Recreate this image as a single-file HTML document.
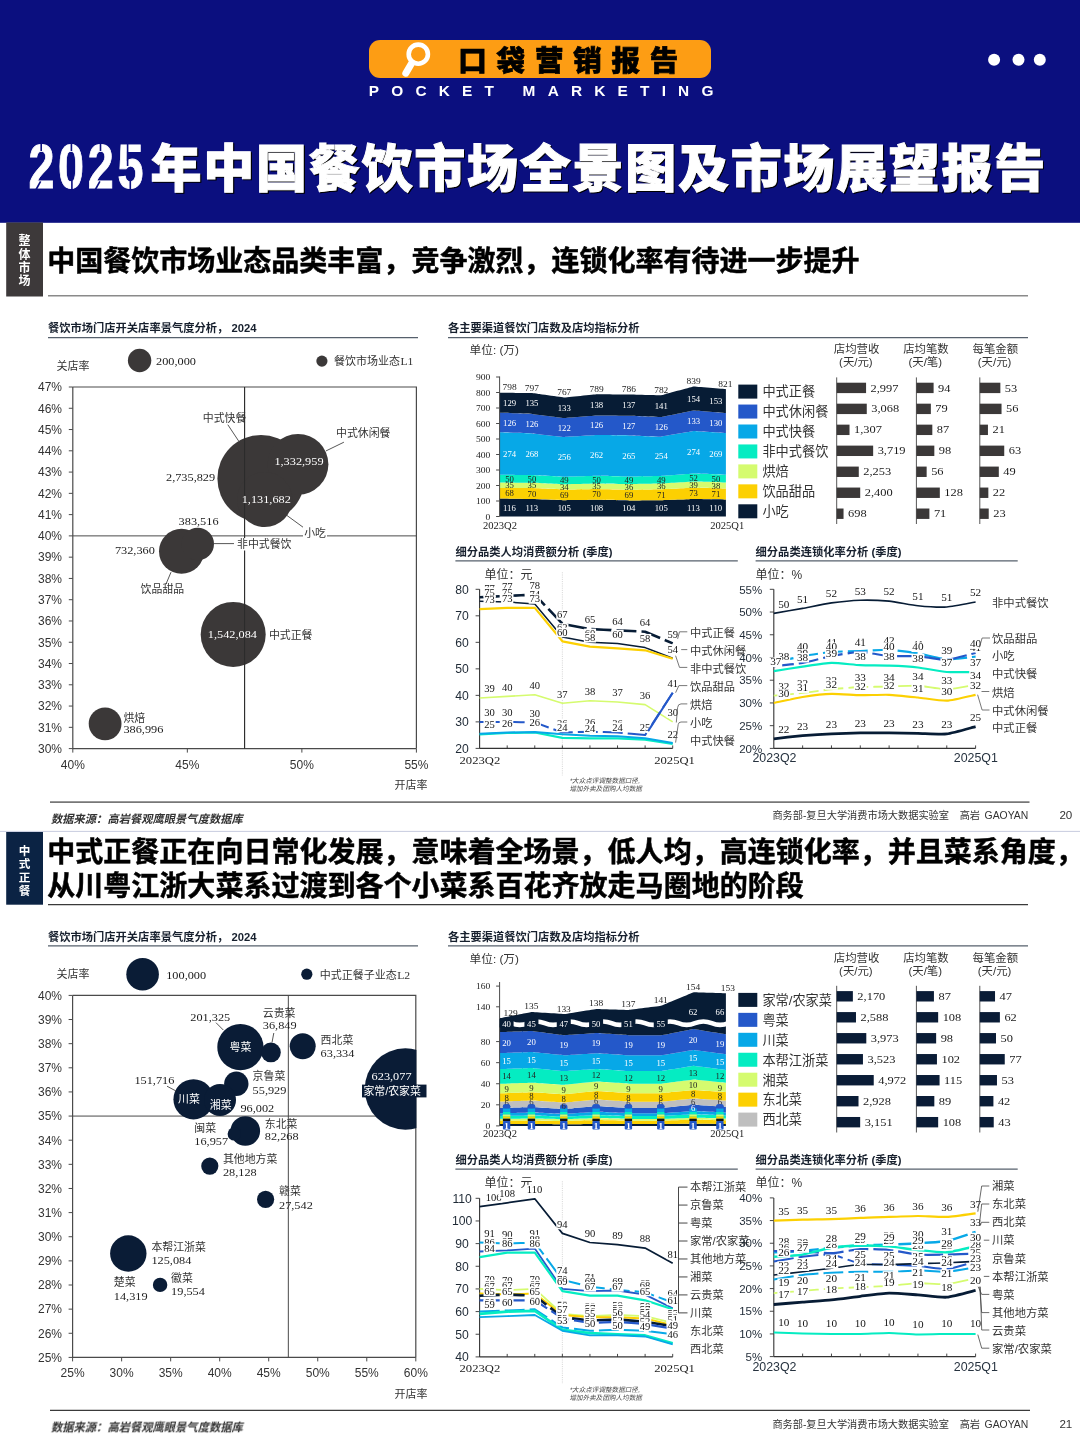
<!DOCTYPE html>
<html lang="zh-CN"><head><meta charset="utf-8"><title>2025年中国餐饮市场全景图及市场展望报告</title>
<style>
html,body{margin:0;padding:0;background:#fff}
body{width:1080px;height:1440px;overflow:hidden;font-family:"Liberation Sans",sans-serif}
svg{display:block;transform:translateZ(0);will-change:transform}
.s{font-family:"Liberation Sans",sans-serif}
.f{font-family:"Liberation Serif",serif}
.c{font-family:"Liberation Sans","Noto Sans CJK SC",sans-serif}
</style></head><body>
<svg width="1080" height="1440" viewBox="0 0 1080 1440">
<rect x="0.00" y="0.00" width="1080.00" height="222.80" fill="#0b0f7f"/>
<rect x="369.00" y="40.00" width="342.00" height="38.00" fill="#fd9d14" rx="11"/>
<circle cx="418.30" cy="54.20" r="9.60" fill="none" stroke="#fff" stroke-width="4.6"/>
<line x1="411.50" y1="63.50" x2="405.80" y2="73.20" stroke="#fff" stroke-width="7" stroke-linecap="round"/>
<text class="c" x="458.30" y="70.60" font-size="28.5" font-weight="900" letter-spacing="9.8" fill="#000" stroke="#000" stroke-width="0.7">口袋营销报告</text>
<text class="s" font-size="15.4" fill="#fff" font-weight="700" letter-spacing="12.2" x="368.80" y="95.80">POCKET MARKETING</text>
<circle cx="994.10" cy="59.80" r="6.00" fill="#fff"/>
<circle cx="1018.50" cy="59.80" r="6.00" fill="#fff"/>
<circle cx="1039.80" cy="59.80" r="6.00" fill="#fff"/>
<text class="c" x="151.70" y="188.10" font-size="51" font-weight="900" letter-spacing="1.73" fill="#000" stroke="#000" stroke-width="1">年中国餐饮市场全景图及市场展望报告</text>
<text class="s" font-size="63.5" fill="#fff" font-weight="700" letter-spacing="5.1" transform="translate(28.40 188.10) scale(0.735 1)" stroke="#fff" stroke-width="0.9">2025</text>
<text class="c" x="150.60" y="186.80" font-size="51" font-weight="900" letter-spacing="1.73" fill="#fff" stroke="#fff" stroke-width="1">年中国餐饮市场全景图及市场展望报告</text>
<line x1="41.20" y1="142.00" x2="41.20" y2="151.00" stroke="#0b0f7f" stroke-width="1.6"/>
<line x1="36.10" y1="189.50" x2="40.60" y2="181.30" stroke="#0b0f7f" stroke-width="1.6"/>
<line x1="100.50" y1="142.00" x2="100.50" y2="151.00" stroke="#0b0f7f" stroke-width="1.6"/>
<line x1="95.40" y1="189.50" x2="99.90" y2="181.30" stroke="#0b0f7f" stroke-width="1.6"/>
<line x1="71.40" y1="142.00" x2="71.40" y2="151.00" stroke="#0b0f7f" stroke-width="1.6"/>
<line x1="71.90" y1="180.50" x2="71.90" y2="190.00" stroke="#0b0f7f" stroke-width="1.6"/>
<line x1="127.60" y1="142.00" x2="127.60" y2="166.00" stroke="#0b0f7f" stroke-width="1.6"/>
<line x1="130.30" y1="180.50" x2="130.30" y2="190.00" stroke="#0b0f7f" stroke-width="1.6"/>
<rect x="6.20" y="222.50" width="36.80" height="74.00" fill="#3d393a"/>
<text class="c" x="18.60" y="245.40" font-size="12" font-weight="700" fill="#fff">整</text>
<text class="c" x="18.60" y="258.70" font-size="12" font-weight="700" fill="#fff">体</text>
<text class="c" x="18.60" y="272.00" font-size="12" font-weight="700" fill="#fff">市</text>
<text class="c" x="18.60" y="285.30" font-size="12" font-weight="700" fill="#fff">场</text>
<text class="c" x="47.20" y="271.40" font-size="28.03" font-weight="700" fill="#000" stroke="#000" stroke-width="0.5">中国餐饮市场业态品类丰富，竞争激烈，连锁化率有待进一步提升</text>
<line x1="48.00" y1="295.80" x2="1028.00" y2="295.80" stroke="#8a8a8a" stroke-width="1.6"/>
<text class="c" x="48.00" y="332.40" font-size="11.27" font-weight="700" fill="#17202e">餐饮市场门店开关店率景气度分析， 2024</text>
<line x1="48.00" y1="337.60" x2="418.00" y2="337.60" stroke="#56606c" stroke-width="1.3"/>
<path d="M72.8 387.0H416.4V748.6" fill="none" stroke="#4a4a4a" stroke-width="1.2"/>
<path d="M72.8 387.0V748.6H416.4" fill="none" stroke="#4a4a4a" stroke-width="1.2"/>
<line x1="68.80" y1="748.60" x2="72.80" y2="748.60" stroke="#4a4a4a" stroke-width="1"/>
<text class="s" font-size="12" fill="#333" text-anchor="end" x="62.00" y="752.90">30%</text>
<line x1="68.80" y1="727.33" x2="72.80" y2="727.33" stroke="#4a4a4a" stroke-width="1"/>
<text class="s" font-size="12" fill="#333" text-anchor="end" x="62.00" y="731.63">31%</text>
<line x1="68.80" y1="706.06" x2="72.80" y2="706.06" stroke="#4a4a4a" stroke-width="1"/>
<text class="s" font-size="12" fill="#333" text-anchor="end" x="62.00" y="710.36">32%</text>
<line x1="68.80" y1="684.79" x2="72.80" y2="684.79" stroke="#4a4a4a" stroke-width="1"/>
<text class="s" font-size="12" fill="#333" text-anchor="end" x="62.00" y="689.09">33%</text>
<line x1="68.80" y1="663.52" x2="72.80" y2="663.52" stroke="#4a4a4a" stroke-width="1"/>
<text class="s" font-size="12" fill="#333" text-anchor="end" x="62.00" y="667.82">34%</text>
<line x1="68.80" y1="642.25" x2="72.80" y2="642.25" stroke="#4a4a4a" stroke-width="1"/>
<text class="s" font-size="12" fill="#333" text-anchor="end" x="62.00" y="646.55">35%</text>
<line x1="68.80" y1="620.98" x2="72.80" y2="620.98" stroke="#4a4a4a" stroke-width="1"/>
<text class="s" font-size="12" fill="#333" text-anchor="end" x="62.00" y="625.28">36%</text>
<line x1="68.80" y1="599.71" x2="72.80" y2="599.71" stroke="#4a4a4a" stroke-width="1"/>
<text class="s" font-size="12" fill="#333" text-anchor="end" x="62.00" y="604.01">37%</text>
<line x1="68.80" y1="578.44" x2="72.80" y2="578.44" stroke="#4a4a4a" stroke-width="1"/>
<text class="s" font-size="12" fill="#333" text-anchor="end" x="62.00" y="582.74">38%</text>
<line x1="68.80" y1="557.16" x2="72.80" y2="557.16" stroke="#4a4a4a" stroke-width="1"/>
<text class="s" font-size="12" fill="#333" text-anchor="end" x="62.00" y="561.46">39%</text>
<line x1="68.80" y1="535.89" x2="72.80" y2="535.89" stroke="#4a4a4a" stroke-width="1"/>
<text class="s" font-size="12" fill="#333" text-anchor="end" x="62.00" y="540.19">40%</text>
<line x1="68.80" y1="514.62" x2="72.80" y2="514.62" stroke="#4a4a4a" stroke-width="1"/>
<text class="s" font-size="12" fill="#333" text-anchor="end" x="62.00" y="518.92">41%</text>
<line x1="68.80" y1="493.35" x2="72.80" y2="493.35" stroke="#4a4a4a" stroke-width="1"/>
<text class="s" font-size="12" fill="#333" text-anchor="end" x="62.00" y="497.65">42%</text>
<line x1="68.80" y1="472.08" x2="72.80" y2="472.08" stroke="#4a4a4a" stroke-width="1"/>
<text class="s" font-size="12" fill="#333" text-anchor="end" x="62.00" y="476.38">43%</text>
<line x1="68.80" y1="450.81" x2="72.80" y2="450.81" stroke="#4a4a4a" stroke-width="1"/>
<text class="s" font-size="12" fill="#333" text-anchor="end" x="62.00" y="455.11">44%</text>
<line x1="68.80" y1="429.54" x2="72.80" y2="429.54" stroke="#4a4a4a" stroke-width="1"/>
<text class="s" font-size="12" fill="#333" text-anchor="end" x="62.00" y="433.84">45%</text>
<line x1="68.80" y1="408.27" x2="72.80" y2="408.27" stroke="#4a4a4a" stroke-width="1"/>
<text class="s" font-size="12" fill="#333" text-anchor="end" x="62.00" y="412.57">46%</text>
<line x1="68.80" y1="387.00" x2="72.80" y2="387.00" stroke="#4a4a4a" stroke-width="1"/>
<text class="s" font-size="12" fill="#333" text-anchor="end" x="62.00" y="391.30">47%</text>
<line x1="72.80" y1="748.60" x2="72.80" y2="752.60" stroke="#4a4a4a" stroke-width="1"/>
<text class="s" font-size="12" fill="#333" text-anchor="middle" x="72.80" y="768.80">40%</text>
<line x1="187.33" y1="748.60" x2="187.33" y2="752.60" stroke="#4a4a4a" stroke-width="1"/>
<text class="s" font-size="12" fill="#333" text-anchor="middle" x="187.33" y="768.80">45%</text>
<line x1="301.87" y1="748.60" x2="301.87" y2="752.60" stroke="#4a4a4a" stroke-width="1"/>
<text class="s" font-size="12" fill="#333" text-anchor="middle" x="301.87" y="768.80">50%</text>
<line x1="416.40" y1="748.60" x2="416.40" y2="752.60" stroke="#4a4a4a" stroke-width="1"/>
<text class="s" font-size="12" fill="#333" text-anchor="middle" x="416.40" y="768.80">55%</text>
<line x1="72.80" y1="535.89" x2="416.40" y2="535.89" stroke="#4a4a4a" stroke-width="1"/>
<line x1="244.60" y1="387.00" x2="244.60" y2="748.60" stroke="#4a4a4a" stroke-width="1"/>
<text class="c" x="56.50" y="370.00" font-size="11" fill="#333">关店率</text>
<text class="c" x="394.50" y="789.40" font-size="11" fill="#333">开店率</text>
<circle cx="139.60" cy="360.50" r="11.70" fill="#3b3838"/>
<text class="f" font-size="10.6" fill="#1a1a1a" transform="translate(156.00 365.40) scale(1.16 1)">200,000</text>
<circle cx="321.90" cy="361.10" r="5.60" fill="#3b3838"/>
<text class="c" x="334.00" y="365.40" font-size="11" fill="#333">餐饮市场业态</text>
<text class="f" font-size="10.6" fill="#333" transform="translate(400.40 365.40) scale(1.1 1)">L1</text>
<circle cx="261.00" cy="478.50" r="43.60" fill="#3b3838"/>
<circle cx="298.00" cy="464.30" r="30.40" fill="#3b3838"/>
<circle cx="264.70" cy="499.50" r="27.60" fill="#3b3838"/>
<circle cx="181.50" cy="551.30" r="22.50" fill="#3b3838"/>
<circle cx="197.70" cy="544.00" r="16.30" fill="#3b3838"/>
<circle cx="233.20" cy="634.40" r="32.50" fill="#3b3838"/>
<circle cx="105.10" cy="723.80" r="16.40" fill="#3b3838"/>
<line x1="244.60" y1="387.00" x2="244.60" y2="748.60" stroke="#2a2a2a" stroke-width="1"/>
<line x1="227.80" y1="424.70" x2="238.90" y2="441.40" stroke="#444" stroke-width="0.9"/>
<line x1="343.90" y1="442.20" x2="325.80" y2="451.00" stroke="#444" stroke-width="0.9"/>
<line x1="287.00" y1="515.50" x2="305.50" y2="529.00" stroke="#444" stroke-width="0.9"/>
<line x1="213.30" y1="543.60" x2="234.00" y2="543.60" stroke="#444" stroke-width="0.9"/>
<line x1="171.00" y1="572.20" x2="166.20" y2="583.60" stroke="#444" stroke-width="0.9"/>
<rect x="303.00" y="527.00" width="24.00" height="13.00" fill="#fff"/>
<rect x="236.00" y="538.00" width="57.00" height="12.50" fill="#fff"/>
<text class="c" x="202.80" y="422.00" font-size="10.9" fill="#333">中式快餐</text>
<text class="c" x="336.00" y="437.00" font-size="10.9" fill="#333">中式休闲餐</text>
<text class="c" x="304.20" y="537.20" font-size="10.9" fill="#333">小吃</text>
<text class="c" x="237.00" y="548.00" font-size="10.9" fill="#333">非中式餐饮</text>
<text class="c" x="140.60" y="593.40" font-size="10.9" fill="#333">饮品甜品</text>
<text class="c" x="268.90" y="638.60" font-size="10.9" fill="#333">中式正餐</text>
<text class="c" x="123.40" y="721.70" font-size="10.9" fill="#333">烘焙</text>
<text class="f" font-size="10.6" fill="#fff" transform="translate(274.40 465.00) scale(1.16 1)">1,332,959</text>
<text class="f" font-size="10.6" fill="#1a1a1a" transform="translate(166.00 481.00) scale(1.16 1)">2,735,829</text>
<text class="f" font-size="10.6" fill="#fff" transform="translate(241.70 502.50) scale(1.16 1)">1,131,682</text>
<text class="f" font-size="10.6" fill="#1a1a1a" transform="translate(178.60 524.70) scale(1.16 1)">383,516</text>
<text class="f" font-size="10.6" fill="#1a1a1a" transform="translate(114.90 553.90) scale(1.16 1)">732,360</text>
<text class="f" font-size="10.6" fill="#fff" transform="translate(207.80 638.20) scale(1.16 1)">1,542,084</text>
<text class="f" font-size="10.6" fill="#1a1a1a" transform="translate(123.40 733.20) scale(1.16 1)">386,996</text>
<line x1="50.00" y1="802.20" x2="1029.50" y2="802.20" stroke="#777" stroke-width="1.8"/>
<text class="c" transform="translate(51.00 822.80) skewX(-12)" font-size="11.3" font-weight="700" fill="#333">数据来源：高岩餐观鹰眼景气度数据库</text>
<text class="c" x="448.00" y="332.40" font-size="11.27" font-weight="700" fill="#17202e">各主要渠道餐饮门店数及店均指标分析</text>
<line x1="448.00" y1="337.60" x2="1028.00" y2="337.60" stroke="#56606c" stroke-width="1.3"/>
<text class="c" x="469.60" y="354.40" font-size="11.7" fill="#333">单位: (万)</text>
<path d="M499.6 498.5C499.6 498.5 531.9 499.0 531.9 499.0C531.9 499.0 564.3 500.2 564.3 500.2C564.3 500.2 596.6 499.8 596.6 499.8C596.6 499.8 628.9 500.4 628.9 500.4C628.9 500.4 661.2 500.2 661.2 500.2C661.2 500.2 693.6 499.0 693.6 499.0C693.6 499.0 725.9 499.4 725.9 499.4L725.9 516.5C725.9 516.5 693.6 516.5 693.6 516.5C693.6 516.5 661.2 516.5 661.2 516.5C661.2 516.5 628.9 516.5 628.9 516.5C628.9 516.5 596.6 516.5 596.6 516.5C596.6 516.5 564.3 516.5 564.3 516.5C564.3 516.5 531.9 516.5 531.9 516.5C531.9 516.5 499.6 516.5 499.6 516.5Z" fill="#071c35"/>
<path d="M499.6 488.0C499.6 488.0 531.9 488.1 531.9 488.1C531.9 488.1 564.3 489.5 564.3 489.5C564.3 489.5 596.6 488.9 596.6 488.9C596.6 488.9 628.9 489.7 628.9 489.7C628.9 489.7 661.2 489.2 661.2 489.2C661.2 489.2 693.6 487.7 693.6 487.7C693.6 487.7 725.9 488.4 725.9 488.4L725.9 499.4C725.9 499.4 693.6 499.0 693.6 499.0C693.6 499.0 661.2 500.2 661.2 500.2C661.2 500.2 628.9 500.4 628.9 500.4C628.9 500.4 596.6 499.8 596.6 499.8C596.6 499.8 564.3 500.2 564.3 500.2C564.3 500.2 531.9 499.0 531.9 499.0C531.9 499.0 499.6 498.5 499.6 498.5Z" fill="#fcd002"/>
<path d="M499.6 482.6C499.6 482.6 531.9 482.7 531.9 482.7C531.9 482.7 564.3 484.3 564.3 484.3C564.3 484.3 596.6 483.5 596.6 483.5C596.6 483.5 628.9 484.1 628.9 484.1C628.9 484.1 661.2 483.6 661.2 483.6C661.2 483.6 693.6 481.6 693.6 481.6C693.6 481.6 725.9 482.6 725.9 482.6L725.9 488.4C725.9 488.4 693.6 487.7 693.6 487.7C693.6 487.7 661.2 489.2 661.2 489.2C661.2 489.2 628.9 489.7 628.9 489.7C628.9 489.7 596.6 488.9 596.6 488.9C596.6 488.9 564.3 489.5 564.3 489.5C564.3 489.5 531.9 488.1 531.9 488.1C531.9 488.1 499.6 488.0 499.6 488.0Z" fill="#d5fb6f"/>
<path d="M499.6 474.8C499.6 474.8 531.9 475.0 531.9 475.0C531.9 475.0 564.3 476.7 564.3 476.7C564.3 476.7 596.6 475.7 596.6 475.7C596.6 475.7 628.9 476.5 628.9 476.5C628.9 476.5 661.2 476.0 661.2 476.0C661.2 476.0 693.6 473.6 693.6 473.6C693.6 473.6 725.9 474.8 725.9 474.8L725.9 482.6C725.9 482.6 693.6 481.6 693.6 481.6C693.6 481.6 661.2 483.6 661.2 483.6C661.2 483.6 628.9 484.1 628.9 484.1C628.9 484.1 596.6 483.5 596.6 483.5C596.6 483.5 564.3 484.3 564.3 484.3C564.3 484.3 531.9 482.7 531.9 482.7C531.9 482.7 499.6 482.6 499.6 482.6Z" fill="#05ecc2"/>
<path d="M499.6 432.3C499.6 432.3 531.9 433.4 531.9 433.4C531.9 433.4 564.3 437.0 564.3 437.0C564.3 437.0 596.6 435.1 596.6 435.1C596.6 435.1 628.9 435.4 628.9 435.4C628.9 435.4 661.2 436.7 661.2 436.7C661.2 436.7 693.6 431.1 693.6 431.1C693.6 431.1 725.9 433.1 725.9 433.1L725.9 474.8C725.9 474.8 693.6 473.6 693.6 473.6C693.6 473.6 661.2 476.0 661.2 476.0C661.2 476.0 628.9 476.5 628.9 476.5C628.9 476.5 596.6 475.7 596.6 475.7C596.6 475.7 564.3 476.7 564.3 476.7C564.3 476.7 531.9 475.0 531.9 475.0C531.9 475.0 499.6 474.8 499.6 474.8Z" fill="#07a8e7"/>
<path d="M499.6 412.8C499.6 412.8 531.9 413.9 531.9 413.9C531.9 413.9 564.3 418.1 564.3 418.1C564.3 418.1 596.6 415.6 596.6 415.6C596.6 415.6 628.9 415.8 628.9 415.8C628.9 415.8 661.2 417.1 661.2 417.1C661.2 417.1 693.6 410.5 693.6 410.5C693.6 410.5 725.9 413.0 725.9 413.0L725.9 433.1C725.9 433.1 693.6 431.1 693.6 431.1C693.6 431.1 661.2 436.7 661.2 436.7C661.2 436.7 628.9 435.4 628.9 435.4C628.9 435.4 596.6 435.1 596.6 435.1C596.6 435.1 564.3 437.0 564.3 437.0C564.3 437.0 531.9 433.4 531.9 433.4C531.9 433.4 499.6 432.3 499.6 432.3Z" fill="#2458c9"/>
<path d="M499.6 392.8C499.6 392.8 531.9 393.0 531.9 393.0C531.9 393.0 564.3 397.5 564.3 397.5C564.3 397.5 596.6 394.2 596.6 394.2C596.6 394.2 628.9 394.5 628.9 394.5C628.9 394.5 661.2 395.3 661.2 395.3C661.2 395.3 693.6 386.6 693.6 386.6C693.6 386.6 725.9 389.2 725.9 389.2L725.9 413.0C725.9 413.0 693.6 410.5 693.6 410.5C693.6 410.5 661.2 417.1 661.2 417.1C661.2 417.1 628.9 415.8 628.9 415.8C628.9 415.8 596.6 415.6 596.6 415.6C596.6 415.6 564.3 418.1 564.3 418.1C564.3 418.1 531.9 413.9 531.9 413.9C531.9 413.9 499.6 412.8 499.6 412.8Z" fill="#071c35"/>
<line x1="499.60" y1="376.50" x2="499.60" y2="516.50" stroke="#4a4a4a" stroke-width="1"/>
<line x1="496.10" y1="516.50" x2="499.60" y2="516.50" stroke="#4a4a4a" stroke-width="1"/>
<text class="f" font-size="9" fill="#222" transform="translate(485.43 519.50) scale(1.06 1)">0</text>
<line x1="496.10" y1="501.00" x2="499.60" y2="501.00" stroke="#4a4a4a" stroke-width="1"/>
<text class="f" font-size="9" fill="#222" transform="translate(475.89 504.00) scale(1.06 1)">100</text>
<line x1="496.10" y1="485.50" x2="499.60" y2="485.50" stroke="#4a4a4a" stroke-width="1"/>
<text class="f" font-size="9" fill="#222" transform="translate(475.89 488.50) scale(1.06 1)">200</text>
<line x1="496.10" y1="470.00" x2="499.60" y2="470.00" stroke="#4a4a4a" stroke-width="1"/>
<text class="f" font-size="9" fill="#222" transform="translate(475.89 473.00) scale(1.06 1)">300</text>
<line x1="496.10" y1="454.50" x2="499.60" y2="454.50" stroke="#4a4a4a" stroke-width="1"/>
<text class="f" font-size="9" fill="#222" transform="translate(475.89 457.50) scale(1.06 1)">400</text>
<line x1="496.10" y1="439.00" x2="499.60" y2="439.00" stroke="#4a4a4a" stroke-width="1"/>
<text class="f" font-size="9" fill="#222" transform="translate(475.89 442.00) scale(1.06 1)">500</text>
<line x1="496.10" y1="423.50" x2="499.60" y2="423.50" stroke="#4a4a4a" stroke-width="1"/>
<text class="f" font-size="9" fill="#222" transform="translate(475.89 426.50) scale(1.06 1)">600</text>
<line x1="496.10" y1="408.00" x2="499.60" y2="408.00" stroke="#4a4a4a" stroke-width="1"/>
<text class="f" font-size="9" fill="#222" transform="translate(475.89 411.00) scale(1.06 1)">700</text>
<line x1="496.10" y1="392.50" x2="499.60" y2="392.50" stroke="#4a4a4a" stroke-width="1"/>
<text class="f" font-size="9" fill="#222" transform="translate(475.89 395.50) scale(1.06 1)">800</text>
<line x1="496.10" y1="377.00" x2="499.60" y2="377.00" stroke="#4a4a4a" stroke-width="1"/>
<text class="f" font-size="9" fill="#222" transform="translate(475.89 380.00) scale(1.06 1)">900</text>
<text class="f" font-size="9" fill="#fff" transform="translate(503.05 510.51) scale(0.97 1)">116</text>
<text class="f" font-size="9" fill="#fff" transform="translate(525.38 510.74) scale(0.97 1)">113</text>
<text class="f" font-size="9" fill="#fff" transform="translate(557.71 511.36) scale(0.97 1)">105</text>
<text class="f" font-size="9" fill="#fff" transform="translate(590.04 511.13) scale(0.97 1)">108</text>
<text class="f" font-size="9" fill="#fff" transform="translate(622.37 511.44) scale(0.97 1)">104</text>
<text class="f" font-size="9" fill="#fff" transform="translate(654.70 511.36) scale(0.97 1)">105</text>
<text class="f" font-size="9" fill="#fff" transform="translate(687.02 510.74) scale(0.97 1)">113</text>
<text class="f" font-size="9" fill="#fff" transform="translate(709.35 510.98) scale(0.97 1)">110</text>
<text class="f" font-size="9" fill="#222" transform="translate(505.24 496.25) scale(0.97 1)">68</text>
<text class="f" font-size="9" fill="#222" transform="translate(527.56 496.56) scale(0.97 1)">70</text>
<text class="f" font-size="9" fill="#222" transform="translate(559.89 497.88) scale(0.97 1)">69</text>
<text class="f" font-size="9" fill="#222" transform="translate(592.22 497.33) scale(0.97 1)">70</text>
<text class="f" font-size="9" fill="#222" transform="translate(624.55 498.03) scale(0.97 1)">69</text>
<text class="f" font-size="9" fill="#222" transform="translate(656.88 497.72) scale(0.97 1)">71</text>
<text class="f" font-size="9" fill="#222" transform="translate(689.21 496.33) scale(0.97 1)">73</text>
<text class="f" font-size="9" fill="#222" transform="translate(711.53 496.95) scale(0.97 1)">71</text>
<text class="f" font-size="9" fill="#222" transform="translate(505.24 488.27) scale(0.97 1)">35</text>
<text class="f" font-size="9" fill="#222" transform="translate(527.56 488.42) scale(0.97 1)">35</text>
<text class="f" font-size="9" fill="#222" transform="translate(559.89 489.89) scale(0.97 1)">34</text>
<text class="f" font-size="9" fill="#222" transform="translate(592.22 489.20) scale(0.97 1)">35</text>
<text class="f" font-size="9" fill="#222" transform="translate(624.55 489.89) scale(0.97 1)">36</text>
<text class="f" font-size="9" fill="#222" transform="translate(656.88 489.43) scale(0.97 1)">36</text>
<text class="f" font-size="9" fill="#222" transform="translate(689.21 487.65) scale(0.97 1)">39</text>
<text class="f" font-size="9" fill="#222" transform="translate(711.53 488.50) scale(0.97 1)">38</text>
<text class="f" font-size="9" fill="#222" transform="translate(505.24 481.68) scale(0.97 1)">50</text>
<text class="f" font-size="9" fill="#222" transform="translate(527.56 481.83) scale(0.97 1)">50</text>
<text class="f" font-size="9" fill="#222" transform="translate(559.89 483.46) scale(0.97 1)">49</text>
<text class="f" font-size="9" fill="#222" transform="translate(592.22 482.61) scale(0.97 1)">50</text>
<text class="f" font-size="9" fill="#222" transform="translate(624.55 483.31) scale(0.97 1)">49</text>
<text class="f" font-size="9" fill="#222" transform="translate(656.88 482.84) scale(0.97 1)">49</text>
<text class="f" font-size="9" fill="#222" transform="translate(689.21 480.60) scale(0.97 1)">52</text>
<text class="f" font-size="9" fill="#222" transform="translate(711.53 481.68) scale(0.97 1)">50</text>
<text class="f" font-size="9" fill="#fff" transform="translate(503.05 456.57) scale(0.97 1)">274</text>
<text class="f" font-size="9" fill="#fff" transform="translate(525.38 457.19) scale(0.97 1)">268</text>
<text class="f" font-size="9" fill="#fff" transform="translate(557.71 459.82) scale(0.97 1)">256</text>
<text class="f" font-size="9" fill="#fff" transform="translate(590.04 458.43) scale(0.97 1)">262</text>
<text class="f" font-size="9" fill="#fff" transform="translate(622.37 458.97) scale(0.97 1)">265</text>
<text class="f" font-size="9" fill="#fff" transform="translate(654.70 459.36) scale(0.97 1)">254</text>
<text class="f" font-size="9" fill="#fff" transform="translate(687.02 455.33) scale(0.97 1)">274</text>
<text class="f" font-size="9" fill="#fff" transform="translate(709.35 456.96) scale(0.97 1)">269</text>
<text class="f" font-size="9" fill="#fff" transform="translate(503.05 425.57) scale(0.97 1)">126</text>
<text class="f" font-size="9" fill="#fff" transform="translate(525.38 426.65) scale(0.97 1)">126</text>
<text class="f" font-size="9" fill="#fff" transform="translate(557.71 430.53) scale(0.97 1)">122</text>
<text class="f" font-size="9" fill="#fff" transform="translate(590.04 428.36) scale(0.97 1)">126</text>
<text class="f" font-size="9" fill="#fff" transform="translate(622.37 428.59) scale(0.97 1)">127</text>
<text class="f" font-size="9" fill="#fff" transform="translate(654.70 429.91) scale(0.97 1)">126</text>
<text class="f" font-size="9" fill="#fff" transform="translate(687.02 423.79) scale(0.97 1)">133</text>
<text class="f" font-size="9" fill="#fff" transform="translate(709.35 426.03) scale(0.97 1)">130</text>
<text class="f" font-size="9" fill="#fff" transform="translate(503.05 405.81) scale(0.97 1)">129</text>
<text class="f" font-size="9" fill="#fff" transform="translate(525.38 406.43) scale(0.97 1)">135</text>
<text class="f" font-size="9" fill="#fff" transform="translate(557.71 410.77) scale(0.97 1)">133</text>
<text class="f" font-size="9" fill="#fff" transform="translate(590.04 407.90) scale(0.97 1)">138</text>
<text class="f" font-size="9" fill="#fff" transform="translate(622.37 408.13) scale(0.97 1)">137</text>
<text class="f" font-size="9" fill="#fff" transform="translate(654.70 409.22) scale(0.97 1)">141</text>
<text class="f" font-size="9" fill="#fff" transform="translate(687.02 401.55) scale(0.97 1)">154</text>
<text class="f" font-size="9" fill="#fff" transform="translate(709.35 404.10) scale(0.97 1)">153</text>
<text class="f" font-size="9" fill="#222" transform="translate(502.51 390.41) scale(1.05 1)">798</text>
<text class="f" font-size="9" fill="#222" transform="translate(524.84 390.57) scale(1.05 1)">797</text>
<text class="f" font-size="9" fill="#222" transform="translate(557.17 395.06) scale(1.05 1)">767</text>
<text class="f" font-size="9" fill="#222" transform="translate(589.50 391.81) scale(1.05 1)">789</text>
<text class="f" font-size="9" fill="#222" transform="translate(621.83 392.12) scale(1.05 1)">786</text>
<text class="f" font-size="9" fill="#222" transform="translate(654.16 392.89) scale(1.05 1)">782</text>
<text class="f" font-size="9" fill="#222" transform="translate(686.48 384.21) scale(1.05 1)">839</text>
<text class="f" font-size="9" fill="#222" transform="translate(718.31 386.85) scale(1.05 1)">821</text>
<text class="f" font-size="9.6" fill="#222" transform="translate(483.00 528.70) scale(1.1 1)">2023Q2</text>
<text class="f" font-size="9.6" fill="#222" transform="translate(710.20 528.70) scale(1.1 1)">2025Q1</text>
<rect x="738.30" y="384.60" width="19.00" height="14.00" fill="#071c35"/>
<text class="c" x="762.40" y="396.40" font-size="13.2" fill="#333">中式正餐</text>
<rect x="738.30" y="404.55" width="19.00" height="14.00" fill="#2458c9"/>
<text class="c" x="762.40" y="416.35" font-size="13.2" fill="#333">中式休闲餐</text>
<rect x="738.30" y="424.50" width="19.00" height="14.00" fill="#07a8e7"/>
<text class="c" x="762.40" y="436.30" font-size="13.2" fill="#333">中式快餐</text>
<rect x="738.30" y="444.45" width="19.00" height="14.00" fill="#05ecc2"/>
<text class="c" x="762.40" y="456.25" font-size="13.2" fill="#333">非中式餐饮</text>
<rect x="738.30" y="464.40" width="19.00" height="14.00" fill="#d5fb6f"/>
<text class="c" x="762.40" y="476.20" font-size="13.2" fill="#333">烘焙</text>
<rect x="738.30" y="484.35" width="19.00" height="14.00" fill="#fcd002"/>
<text class="c" x="762.40" y="496.15" font-size="13.2" fill="#333">饮品甜品</text>
<rect x="738.30" y="504.30" width="19.00" height="14.00" fill="#071c35"/>
<text class="c" x="762.40" y="516.10" font-size="13.2" fill="#333">小吃</text>
<text class="c" x="833.80" y="353.30" font-size="11.4" fill="#333">店均营收</text>
<text class="c" x="839.11" y="366.30" font-size="11.4" fill="#333">(天/元)</text>
<line x1="836.70" y1="377.40" x2="836.70" y2="524.00" stroke="#555" stroke-width="1"/>
<rect x="836.70" y="382.70" width="29.37" height="10.40" fill="#3b3838"/>
<text class="f" font-size="10.8" fill="#1a1a1a" transform="translate(870.57 391.50) scale(1.15 1)">2,997</text>
<rect x="836.70" y="403.67" width="30.07" height="10.40" fill="#3b3838"/>
<text class="f" font-size="10.8" fill="#1a1a1a" transform="translate(871.27 412.47) scale(1.15 1)">3,068</text>
<rect x="836.70" y="424.64" width="12.81" height="10.40" fill="#3b3838"/>
<text class="f" font-size="10.8" fill="#1a1a1a" transform="translate(854.01 433.44) scale(1.15 1)">1,307</text>
<rect x="836.70" y="445.61" width="36.45" height="10.40" fill="#3b3838"/>
<text class="f" font-size="10.8" fill="#1a1a1a" transform="translate(877.65 454.41) scale(1.15 1)">3,719</text>
<rect x="836.70" y="466.58" width="22.08" height="10.40" fill="#3b3838"/>
<text class="f" font-size="10.8" fill="#1a1a1a" transform="translate(863.28 475.38) scale(1.15 1)">2,253</text>
<rect x="836.70" y="487.55" width="23.52" height="10.40" fill="#3b3838"/>
<text class="f" font-size="10.8" fill="#1a1a1a" transform="translate(864.72 496.35) scale(1.15 1)">2,400</text>
<rect x="836.70" y="508.52" width="6.84" height="10.40" fill="#3b3838"/>
<text class="f" font-size="10.8" fill="#1a1a1a" transform="translate(848.04 517.32) scale(1.15 1)">698</text>
<text class="c" x="903.20" y="353.30" font-size="11.4" fill="#333">店均笔数</text>
<text class="c" x="908.51" y="366.30" font-size="11.4" fill="#333">(天/笔)</text>
<line x1="916.40" y1="377.40" x2="916.40" y2="524.00" stroke="#555" stroke-width="1"/>
<rect x="916.40" y="382.70" width="17.20" height="10.40" fill="#3b3838"/>
<text class="f" font-size="10.8" fill="#1a1a1a" transform="translate(938.10 391.50) scale(1.15 1)">94</text>
<rect x="916.40" y="403.67" width="14.46" height="10.40" fill="#3b3838"/>
<text class="f" font-size="10.8" fill="#1a1a1a" transform="translate(935.36 412.47) scale(1.15 1)">79</text>
<rect x="916.40" y="424.64" width="15.92" height="10.40" fill="#3b3838"/>
<text class="f" font-size="10.8" fill="#1a1a1a" transform="translate(936.82 433.44) scale(1.15 1)">87</text>
<rect x="916.40" y="445.61" width="17.93" height="10.40" fill="#3b3838"/>
<text class="f" font-size="10.8" fill="#1a1a1a" transform="translate(938.83 454.41) scale(1.15 1)">98</text>
<rect x="916.40" y="466.58" width="10.25" height="10.40" fill="#3b3838"/>
<text class="f" font-size="10.8" fill="#1a1a1a" transform="translate(931.15 475.38) scale(1.15 1)">56</text>
<rect x="916.40" y="487.55" width="23.42" height="10.40" fill="#3b3838"/>
<text class="f" font-size="10.8" fill="#1a1a1a" transform="translate(944.32 496.35) scale(1.15 1)">128</text>
<rect x="916.40" y="508.52" width="12.99" height="10.40" fill="#3b3838"/>
<text class="f" font-size="10.8" fill="#1a1a1a" transform="translate(933.89 517.32) scale(1.15 1)">71</text>
<text class="c" x="972.50" y="353.30" font-size="11.4" fill="#333">每笔金额</text>
<text class="c" x="977.81" y="366.30" font-size="11.4" fill="#333">(天/元)</text>
<line x1="979.80" y1="377.40" x2="979.80" y2="524.00" stroke="#555" stroke-width="1"/>
<rect x="979.80" y="382.70" width="20.56" height="10.40" fill="#3b3838"/>
<text class="f" font-size="10.8" fill="#1a1a1a" transform="translate(1004.86 391.50) scale(1.15 1)">53</text>
<rect x="979.80" y="403.67" width="21.73" height="10.40" fill="#3b3838"/>
<text class="f" font-size="10.8" fill="#1a1a1a" transform="translate(1006.03 412.47) scale(1.15 1)">56</text>
<rect x="979.80" y="424.64" width="8.15" height="10.40" fill="#3b3838"/>
<text class="f" font-size="10.8" fill="#1a1a1a" transform="translate(992.45 433.44) scale(1.15 1)">21</text>
<rect x="979.80" y="445.61" width="24.44" height="10.40" fill="#3b3838"/>
<text class="f" font-size="10.8" fill="#1a1a1a" transform="translate(1008.74 454.41) scale(1.15 1)">63</text>
<rect x="979.80" y="466.58" width="19.01" height="10.40" fill="#3b3838"/>
<text class="f" font-size="10.8" fill="#1a1a1a" transform="translate(1003.31 475.38) scale(1.15 1)">49</text>
<rect x="979.80" y="487.55" width="8.54" height="10.40" fill="#3b3838"/>
<text class="f" font-size="10.8" fill="#1a1a1a" transform="translate(992.84 496.35) scale(1.15 1)">22</text>
<rect x="979.80" y="508.52" width="8.92" height="10.40" fill="#3b3838"/>
<text class="f" font-size="10.8" fill="#1a1a1a" transform="translate(993.22 517.32) scale(1.15 1)">23</text>
<text class="c" x="455.40" y="555.60" font-size="11.27" font-weight="700" fill="#17202e">细分品类人均消费额分析 (季度)</text>
<line x1="455.40" y1="560.80" x2="737.80" y2="560.80" stroke="#56606c" stroke-width="1.3"/>
<text class="c" x="484.40" y="578.70" font-size="12" fill="#333">单位：元</text>
<line x1="562.36" y1="572.30" x2="562.36" y2="775.40" stroke="#c9c9c9" stroke-width="0.8" stroke-dasharray="1 1.2"/>
<line x1="479.60" y1="589.30" x2="479.60" y2="748.40" stroke="#333" stroke-width="1.1"/>
<line x1="479.60" y1="748.40" x2="672.70" y2="748.40" stroke="#333" stroke-width="1.1"/>
<line x1="507.19" y1="745.40" x2="507.19" y2="748.40" stroke="#333" stroke-width="0.9"/>
<line x1="534.77" y1="745.40" x2="534.77" y2="748.40" stroke="#333" stroke-width="0.9"/>
<line x1="562.36" y1="745.40" x2="562.36" y2="748.40" stroke="#333" stroke-width="0.9"/>
<line x1="589.94" y1="745.40" x2="589.94" y2="748.40" stroke="#333" stroke-width="0.9"/>
<line x1="617.53" y1="745.40" x2="617.53" y2="748.40" stroke="#333" stroke-width="0.9"/>
<line x1="645.11" y1="745.40" x2="645.11" y2="748.40" stroke="#333" stroke-width="0.9"/>
<line x1="672.70" y1="745.40" x2="672.70" y2="748.40" stroke="#333" stroke-width="0.9"/>
<line x1="475.60" y1="748.40" x2="479.60" y2="748.40" stroke="#333" stroke-width="0.9"/>
<text class="s" font-size="12.2" fill="#1f2a36" text-anchor="middle" x="462.10" y="752.70">20</text>
<line x1="475.60" y1="721.88" x2="479.60" y2="721.88" stroke="#333" stroke-width="0.9"/>
<text class="s" font-size="12.2" fill="#1f2a36" text-anchor="middle" x="462.10" y="726.18">30</text>
<line x1="475.60" y1="695.37" x2="479.60" y2="695.37" stroke="#333" stroke-width="0.9"/>
<text class="s" font-size="12.2" fill="#1f2a36" text-anchor="middle" x="462.10" y="699.67">40</text>
<line x1="475.60" y1="668.85" x2="479.60" y2="668.85" stroke="#333" stroke-width="0.9"/>
<text class="s" font-size="12.2" fill="#1f2a36" text-anchor="middle" x="462.10" y="673.15">50</text>
<line x1="475.60" y1="642.33" x2="479.60" y2="642.33" stroke="#333" stroke-width="0.9"/>
<text class="s" font-size="12.2" fill="#1f2a36" text-anchor="middle" x="462.10" y="646.63">60</text>
<line x1="475.60" y1="615.82" x2="479.60" y2="615.82" stroke="#333" stroke-width="0.9"/>
<text class="s" font-size="12.2" fill="#1f2a36" text-anchor="middle" x="462.10" y="620.12">70</text>
<line x1="475.60" y1="589.30" x2="479.60" y2="589.30" stroke="#333" stroke-width="0.9"/>
<text class="s" font-size="12.2" fill="#1f2a36" text-anchor="middle" x="462.10" y="593.60">80</text>
<path d="M479.6 597.3C479.6 597.3 507.2 595.9 507.2 595.9C507.2 595.9 534.8 594.6 534.8 594.6C534.8 594.6 562.4 623.8 562.4 623.8C562.4 623.8 589.9 629.1 589.9 629.1C589.9 629.1 617.5 630.4 617.5 630.4C617.5 630.4 645.1 631.7 645.1 631.7C645.1 631.7 672.7 643.4 672.7 643.4" fill="none" stroke="#071c35" stroke-width="2.6" stroke-linejoin="round" stroke-dasharray="20 5"/>
<path d="M479.6 601.2C479.6 601.2 507.2 602.0 507.2 602.0C507.2 602.0 534.8 603.9 534.8 603.9C534.8 603.9 562.4 637.0 562.4 637.0C562.4 637.0 589.9 642.3 589.9 642.3C589.9 642.3 617.5 643.4 617.5 643.4C617.5 643.4 645.1 647.6 645.1 647.6C645.1 647.6 672.7 658.2 672.7 658.2" fill="none" stroke="#071c35" stroke-width="1.5" stroke-linejoin="round"/>
<path d="M479.6 734.3C479.6 734.3 507.2 733.0 507.2 733.0C507.2 733.0 534.8 732.5 534.8 732.5C534.8 732.5 562.4 737.8 562.4 737.8C562.4 737.8 589.9 738.3 589.9 738.3C589.9 738.3 617.5 738.3 617.5 738.3C617.5 738.3 645.1 739.6 645.1 739.6C645.1 739.6 672.7 743.9 672.7 743.9" fill="none" stroke="#05ecc2" stroke-width="2.2" stroke-linejoin="round"/>
<path d="M479.6 609.2C479.6 609.2 507.2 607.9 507.2 607.9C507.2 607.9 534.8 607.9 534.8 607.9C534.8 607.9 562.4 641.3 562.4 641.3C562.4 641.3 589.9 646.6 589.9 646.6C589.9 646.6 617.5 648.4 617.5 648.4C617.5 648.4 645.1 650.3 645.1 650.3C645.1 650.3 672.7 658.8 672.7 658.8" fill="none" stroke="#fcd002" stroke-width="2.2" stroke-linejoin="round"/>
<path d="M479.6 698.0C479.6 698.0 507.2 696.4 507.2 696.4C507.2 696.4 534.8 694.8 534.8 694.8C534.8 694.8 562.4 703.3 562.4 703.3C562.4 703.3 589.9 700.7 589.9 700.7C589.9 700.7 617.5 702.0 617.5 702.0C617.5 702.0 645.1 704.6 645.1 704.6C645.1 704.6 672.7 721.9 672.7 721.9" fill="none" stroke="#d5fb6f" stroke-width="1.6" stroke-linejoin="round"/>
<path d="M479.6 721.9C479.6 721.9 507.2 721.9 507.2 721.9C507.2 721.9 534.8 722.4 534.8 722.4C534.8 722.4 562.4 732.5 562.4 732.5C562.4 732.5 589.9 731.7 589.9 731.7C589.9 731.7 617.5 732.5 617.5 732.5C617.5 732.5 645.1 735.1 645.1 735.1C645.1 735.1 672.7 692.7 672.7 692.7" fill="none" stroke="#2458c9" stroke-width="2" stroke-linejoin="round" stroke-dasharray="20 5"/>
<path d="M479.6 733.8C479.6 733.8 507.2 732.5 507.2 732.5C507.2 732.5 534.8 732.0 534.8 732.0C534.8 732.0 562.4 734.3 562.4 734.3C562.4 734.3 589.9 735.7 589.9 735.7C589.9 735.7 617.5 736.2 617.5 736.2C617.5 736.2 645.1 738.3 645.1 738.3C645.1 738.3 672.7 743.1 672.7 743.1" fill="none" stroke="#07a8e7" stroke-width="2" stroke-linejoin="round"/>
<rect x="483.50" y="583.55" width="12.20" height="9.60" fill="#fff"/>
<text class="f" font-size="10.6" fill="#151515" x="484.30" y="591.55">77</text>
<rect x="501.09" y="582.23" width="12.20" height="9.60" fill="#fff"/>
<text class="f" font-size="10.6" fill="#151515" x="501.89" y="590.23">77</text>
<rect x="528.67" y="580.90" width="12.20" height="9.60" fill="#fff"/>
<text class="f" font-size="10.6" fill="#151515" x="529.47" y="588.90">78</text>
<rect x="556.26" y="610.07" width="12.20" height="9.60" fill="#fff"/>
<text class="f" font-size="10.6" fill="#151515" x="557.06" y="618.07">67</text>
<rect x="583.84" y="615.37" width="12.20" height="9.60" fill="#fff"/>
<text class="f" font-size="10.6" fill="#151515" x="584.64" y="623.37">65</text>
<rect x="611.43" y="616.70" width="12.20" height="9.60" fill="#fff"/>
<text class="f" font-size="10.6" fill="#151515" x="612.23" y="624.70">64</text>
<rect x="639.01" y="618.03" width="12.20" height="9.60" fill="#fff"/>
<text class="f" font-size="10.6" fill="#151515" x="639.81" y="626.03">64</text>
<rect x="666.60" y="629.69" width="12.20" height="9.60" fill="#fff"/>
<text class="f" font-size="10.6" fill="#151515" x="667.40" y="637.69">59</text>
<rect x="483.50" y="587.53" width="12.20" height="9.60" fill="#fff"/>
<text class="f" font-size="10.6" fill="#151515" x="484.30" y="595.53">75</text>
<rect x="501.09" y="588.33" width="12.20" height="9.60" fill="#fff"/>
<text class="f" font-size="10.6" fill="#151515" x="501.89" y="596.33">75</text>
<rect x="528.67" y="590.18" width="12.20" height="9.60" fill="#fff"/>
<text class="f" font-size="10.6" fill="#151515" x="529.47" y="598.18">74</text>
<rect x="556.26" y="623.33" width="12.20" height="9.60" fill="#fff"/>
<text class="f" font-size="10.6" fill="#151515" x="557.06" y="631.33">62</text>
<rect x="583.84" y="628.63" width="12.20" height="9.60" fill="#fff"/>
<text class="f" font-size="10.6" fill="#151515" x="584.64" y="636.63">60</text>
<rect x="611.43" y="629.69" width="12.20" height="9.60" fill="#fff"/>
<text class="f" font-size="10.6" fill="#151515" x="612.23" y="637.69">60</text>
<rect x="639.01" y="633.94" width="12.20" height="9.60" fill="#fff"/>
<text class="f" font-size="10.6" fill="#151515" x="639.81" y="641.94">58</text>
<rect x="666.60" y="644.54" width="12.20" height="9.60" fill="#fff"/>
<text class="f" font-size="10.6" fill="#151515" x="667.40" y="652.54">54</text>
<rect x="483.50" y="595.49" width="12.20" height="9.60" fill="#fff"/>
<text class="f" font-size="10.6" fill="#151515" x="484.30" y="603.49">73</text>
<rect x="501.09" y="594.16" width="12.20" height="9.60" fill="#fff"/>
<text class="f" font-size="10.6" fill="#151515" x="501.89" y="602.16">73</text>
<rect x="528.67" y="594.16" width="12.20" height="9.60" fill="#fff"/>
<text class="f" font-size="10.6" fill="#151515" x="529.47" y="602.16">73</text>
<rect x="556.26" y="627.57" width="12.20" height="9.60" fill="#fff"/>
<text class="f" font-size="10.6" fill="#151515" x="557.06" y="635.57">60</text>
<rect x="583.84" y="632.88" width="12.20" height="9.60" fill="#fff"/>
<text class="f" font-size="10.6" fill="#151515" x="584.64" y="640.88">58</text>
<rect x="483.50" y="684.32" width="12.20" height="9.60" fill="#fff"/>
<text class="f" font-size="10.6" fill="#151515" x="484.30" y="692.32">39</text>
<rect x="501.09" y="682.73" width="12.20" height="9.60" fill="#fff"/>
<text class="f" font-size="10.6" fill="#151515" x="501.89" y="690.73">40</text>
<rect x="528.67" y="681.14" width="12.20" height="9.60" fill="#fff"/>
<text class="f" font-size="10.6" fill="#151515" x="529.47" y="689.14">40</text>
<rect x="556.26" y="689.62" width="12.20" height="9.60" fill="#fff"/>
<text class="f" font-size="10.6" fill="#151515" x="557.06" y="697.62">37</text>
<rect x="583.84" y="686.97" width="12.20" height="9.60" fill="#fff"/>
<text class="f" font-size="10.6" fill="#151515" x="584.64" y="694.97">38</text>
<rect x="611.43" y="688.30" width="12.20" height="9.60" fill="#fff"/>
<text class="f" font-size="10.6" fill="#151515" x="612.23" y="696.30">37</text>
<rect x="639.01" y="690.95" width="12.20" height="9.60" fill="#fff"/>
<text class="f" font-size="10.6" fill="#151515" x="639.81" y="698.95">36</text>
<rect x="666.60" y="708.18" width="12.20" height="9.60" fill="#fff"/>
<text class="f" font-size="10.6" fill="#151515" x="667.40" y="716.18">30</text>
<rect x="483.50" y="708.18" width="12.20" height="9.60" fill="#fff"/>
<text class="f" font-size="10.6" fill="#151515" x="484.30" y="716.18">30</text>
<rect x="501.09" y="708.18" width="12.20" height="9.60" fill="#fff"/>
<text class="f" font-size="10.6" fill="#151515" x="501.89" y="716.18">30</text>
<rect x="528.67" y="708.71" width="12.20" height="9.60" fill="#fff"/>
<text class="f" font-size="10.6" fill="#151515" x="529.47" y="716.71">30</text>
<rect x="556.26" y="718.79" width="12.20" height="9.60" fill="#fff"/>
<text class="f" font-size="10.6" fill="#151515" x="557.06" y="726.79">26</text>
<rect x="583.84" y="717.99" width="12.20" height="9.60" fill="#fff"/>
<text class="f" font-size="10.6" fill="#151515" x="584.64" y="725.99">26</text>
<rect x="611.43" y="718.79" width="12.20" height="9.60" fill="#fff"/>
<text class="f" font-size="10.6" fill="#151515" x="612.23" y="726.79">26</text>
<rect x="666.60" y="679.01" width="12.20" height="9.60" fill="#fff"/>
<text class="f" font-size="10.6" fill="#151515" x="667.40" y="687.01">41</text>
<rect x="483.50" y="720.12" width="12.20" height="9.60" fill="#fff"/>
<text class="f" font-size="10.6" fill="#151515" x="484.30" y="728.12">25</text>
<rect x="501.09" y="718.79" width="12.20" height="9.60" fill="#fff"/>
<text class="f" font-size="10.6" fill="#151515" x="501.89" y="726.79">26</text>
<rect x="528.67" y="718.26" width="12.20" height="9.60" fill="#fff"/>
<text class="f" font-size="10.6" fill="#151515" x="529.47" y="726.26">26</text>
<rect x="556.26" y="722.65" width="12.20" height="9.60" fill="#fff"/>
<text class="f" font-size="10.6" fill="#151515" x="557.06" y="730.65">24</text>
<rect x="583.84" y="723.97" width="12.20" height="9.60" fill="#fff"/>
<text class="f" font-size="10.6" fill="#151515" x="584.64" y="731.97">24</text>
<rect x="611.43" y="722.50" width="12.20" height="9.60" fill="#fff"/>
<text class="f" font-size="10.6" fill="#151515" x="612.23" y="730.50">24</text>
<rect x="639.01" y="722.62" width="12.20" height="9.60" fill="#fff"/>
<text class="f" font-size="10.6" fill="#151515" x="639.81" y="730.62">25</text>
<rect x="666.60" y="730.40" width="12.20" height="9.60" fill="#fff"/>
<text class="f" font-size="10.6" fill="#151515" x="667.40" y="738.40">22</text>
<path d="M648.1 731.1L672.7 692.7" fill="none" stroke="#2458c9" stroke-width="2"/>
<text class="f" font-size="11.3" fill="#222" transform="translate(459.50 763.60) scale(1.12 1)">2023Q2</text>
<text class="f" font-size="11.3" fill="#222" transform="translate(654.20 763.60) scale(1.12 1)">2025Q1</text>
<text class="c" x="690.10" y="636.70" font-size="11.25" fill="#333">中式正餐</text>
<text class="c" x="690.10" y="654.68" font-size="11.25" fill="#333">中式休闲餐</text>
<text class="c" x="690.10" y="672.66" font-size="11.25" fill="#333">非中式餐饮</text>
<text class="c" x="690.10" y="690.64" font-size="11.25" fill="#333">饮品甜品</text>
<text class="c" x="690.10" y="708.62" font-size="11.25" fill="#333">烘焙</text>
<text class="c" x="690.10" y="726.60" font-size="11.25" fill="#333">小吃</text>
<text class="c" x="690.10" y="744.58" font-size="11.25" fill="#333">中式快餐</text>
<path d="M677.6 638.9L679.5 631.8H687.3" fill="none" stroke="#555" stroke-width="0.8"/>
<path d="M681.2 649.6H687.3" fill="none" stroke="#555" stroke-width="0.8"/>
<path d="M675.6 655.7L679.5 667.4H687.3" fill="none" stroke="#555" stroke-width="0.8"/>
<path d="M675.6 692.7L678.9 685.6H687.3" fill="none" stroke="#555" stroke-width="0.8"/>
<path d="M676.3 722.5L677.6 707.6Q678 703.9 681 703.9H687.3" fill="none" stroke="#555" stroke-width="0.8"/>
<path d="M675.6 742.6L678.2 724.6Q678.6 722 681 722H687.3" fill="none" stroke="#555" stroke-width="0.8"/>
<text class="c" transform="translate(569.50 783.40) skewX(-12)" font-size="6.6" fill="#444">*大众点评调整数据口径,</text>
<text class="c" transform="translate(569.50 791.40) skewX(-12)" font-size="6.6" fill="#444">增加外卖及团购人均数据</text>
<text class="c" x="755.60" y="555.60" font-size="11.27" font-weight="700" fill="#17202e">细分品类连锁化率分析 (季度)</text>
<line x1="755.60" y1="560.80" x2="1017.70" y2="560.80" stroke="#56606c" stroke-width="1.3"/>
<text class="c" x="755.60" y="578.70" font-size="12" fill="#333">单位：%</text>
<line x1="773.80" y1="589.30" x2="773.80" y2="748.40" stroke="#333" stroke-width="1.1"/>
<line x1="773.80" y1="748.40" x2="975.60" y2="748.40" stroke="#333" stroke-width="1.1"/>
<line x1="802.63" y1="745.40" x2="802.63" y2="748.40" stroke="#333" stroke-width="0.9"/>
<line x1="831.46" y1="745.40" x2="831.46" y2="748.40" stroke="#333" stroke-width="0.9"/>
<line x1="860.29" y1="745.40" x2="860.29" y2="748.40" stroke="#333" stroke-width="0.9"/>
<line x1="889.11" y1="745.40" x2="889.11" y2="748.40" stroke="#333" stroke-width="0.9"/>
<line x1="917.94" y1="745.40" x2="917.94" y2="748.40" stroke="#333" stroke-width="0.9"/>
<line x1="946.77" y1="745.40" x2="946.77" y2="748.40" stroke="#333" stroke-width="0.9"/>
<line x1="975.60" y1="745.40" x2="975.60" y2="748.40" stroke="#333" stroke-width="0.9"/>
<line x1="769.80" y1="748.40" x2="773.80" y2="748.40" stroke="#333" stroke-width="0.9"/>
<text class="s" font-size="11.5" fill="#1f2a36" text-anchor="end" x="762.20" y="752.60">20%</text>
<line x1="769.80" y1="725.67" x2="773.80" y2="725.67" stroke="#333" stroke-width="0.9"/>
<text class="s" font-size="11.5" fill="#1f2a36" text-anchor="end" x="762.20" y="729.87">25%</text>
<line x1="769.80" y1="702.94" x2="773.80" y2="702.94" stroke="#333" stroke-width="0.9"/>
<text class="s" font-size="11.5" fill="#1f2a36" text-anchor="end" x="762.20" y="707.14">30%</text>
<line x1="769.80" y1="680.21" x2="773.80" y2="680.21" stroke="#333" stroke-width="0.9"/>
<text class="s" font-size="11.5" fill="#1f2a36" text-anchor="end" x="762.20" y="684.41">35%</text>
<line x1="769.80" y1="657.49" x2="773.80" y2="657.49" stroke="#333" stroke-width="0.9"/>
<text class="s" font-size="11.5" fill="#1f2a36" text-anchor="end" x="762.20" y="661.69">40%</text>
<line x1="769.80" y1="634.76" x2="773.80" y2="634.76" stroke="#333" stroke-width="0.9"/>
<text class="s" font-size="11.5" fill="#1f2a36" text-anchor="end" x="762.20" y="638.96">45%</text>
<line x1="769.80" y1="612.03" x2="773.80" y2="612.03" stroke="#333" stroke-width="0.9"/>
<text class="s" font-size="11.5" fill="#1f2a36" text-anchor="end" x="762.20" y="616.23">50%</text>
<line x1="769.80" y1="589.30" x2="773.80" y2="589.30" stroke="#333" stroke-width="0.9"/>
<text class="s" font-size="11.5" fill="#1f2a36" text-anchor="end" x="762.20" y="593.50">55%</text>
<path d="M773.8 613.4C776.7 612.9 796.9 609.4 802.6 608.4C808.4 607.3 825.7 603.8 831.5 602.9C837.2 602.1 854.5 600.4 860.3 600.2C866.1 600.0 883.3 600.6 889.1 601.1C894.9 601.7 912.2 605.1 917.9 605.7C923.7 606.3 941.0 607.4 946.8 607.0C952.5 606.7 972.7 602.5 975.6 602.0" fill="none" stroke="#071c35" stroke-width="1.6" stroke-linejoin="round"/>
<path d="M773.8 662.5C776.7 661.8 796.9 657.2 802.6 656.1C808.4 655.1 825.7 652.5 831.5 652.0C837.2 651.5 854.5 651.3 860.3 651.1C866.1 650.9 883.3 649.5 889.1 649.8C894.9 650.0 912.2 652.4 917.9 653.4C923.7 654.3 941.0 659.0 946.8 659.3C952.5 659.6 972.7 656.8 975.6 656.6" fill="none" stroke="#07a8e7" stroke-width="2.2" stroke-linejoin="round" stroke-dasharray="20 5"/>
<path d="M773.8 666.1C776.7 665.8 796.9 663.9 802.6 662.9C808.4 661.9 825.7 657.2 831.5 656.1C837.2 655.0 854.5 652.0 860.3 652.0C866.1 652.0 883.3 655.7 889.1 656.1C894.9 656.5 912.2 655.8 917.9 656.1C923.7 656.5 941.0 660.1 946.8 659.8C952.5 659.4 972.7 653.6 975.6 652.9" fill="none" stroke="#2458c9" stroke-width="2.2" stroke-linejoin="round" stroke-dasharray="20 5"/>
<path d="M773.8 671.1C776.7 670.7 796.9 667.4 802.6 666.6C808.4 665.8 825.7 663.1 831.5 662.9C837.2 662.8 854.5 664.9 860.3 665.2C866.1 665.5 883.3 665.4 889.1 665.7C894.9 665.9 912.2 666.8 917.9 667.5C923.7 668.1 941.0 671.6 946.8 672.0C952.5 672.5 972.7 672.0 975.6 672.0" fill="none" stroke="#05ecc2" stroke-width="2.2" stroke-linejoin="round"/>
<path d="M773.8 695.7C776.7 695.4 796.9 693.6 802.6 692.9C808.4 692.3 825.7 689.9 831.5 689.3C837.2 688.7 854.5 687.3 860.3 687.0C866.1 686.8 883.3 686.7 889.1 686.6C894.9 686.4 912.2 685.4 917.9 685.7C923.7 685.9 941.0 689.4 946.8 689.3C952.5 689.2 972.7 685.2 975.6 684.8" fill="none" stroke="#d5fb6f" stroke-width="1.8" stroke-linejoin="round" stroke-dasharray="20 5"/>
<path d="M773.8 702.9C776.7 702.4 796.9 697.9 802.6 697.0C808.4 696.1 825.7 694.0 831.5 693.9C837.2 693.7 854.5 695.1 860.3 695.2C866.1 695.3 883.3 694.5 889.1 694.8C894.9 695.0 912.2 696.9 917.9 697.5C923.7 698.1 941.0 700.9 946.8 700.7C952.5 700.4 972.7 695.4 975.6 694.8" fill="none" stroke="#fcd002" stroke-width="2.2" stroke-linejoin="round"/>
<path d="M773.8 738.9C776.7 738.5 796.9 736.2 802.6 735.7C808.4 735.2 825.7 734.1 831.5 733.9C837.2 733.6 854.5 733.0 860.3 732.9C866.1 732.9 883.3 732.9 889.1 732.9C894.9 733.0 912.2 733.3 917.9 733.4C923.7 733.5 941.0 734.5 946.8 733.9C952.5 733.2 972.7 727.3 975.6 726.6" fill="none" stroke="#071c35" stroke-width="2.8" stroke-linejoin="round"/>
<rect x="777.40" y="599.69" width="12.80" height="9.60" fill="#fff"/>
<text class="f" font-size="11.2" fill="#151515" x="778.20" y="607.69">50</text>
<rect x="796.23" y="594.69" width="12.80" height="9.60" fill="#fff"/>
<text class="f" font-size="11.2" fill="#151515" x="797.03" y="602.69">51</text>
<rect x="825.06" y="589.24" width="12.80" height="9.60" fill="#fff"/>
<text class="f" font-size="11.2" fill="#151515" x="825.86" y="597.24">52</text>
<rect x="853.89" y="586.51" width="12.80" height="9.60" fill="#fff"/>
<text class="f" font-size="11.2" fill="#151515" x="854.69" y="594.51">53</text>
<rect x="882.71" y="587.42" width="12.80" height="9.60" fill="#fff"/>
<text class="f" font-size="11.2" fill="#151515" x="883.51" y="595.42">52</text>
<rect x="911.54" y="591.96" width="12.80" height="9.60" fill="#fff"/>
<text class="f" font-size="11.2" fill="#151515" x="912.34" y="599.96">51</text>
<rect x="940.37" y="593.33" width="12.80" height="9.60" fill="#fff"/>
<text class="f" font-size="11.2" fill="#151515" x="941.17" y="601.33">51</text>
<rect x="969.20" y="588.33" width="12.80" height="9.60" fill="#fff"/>
<text class="f" font-size="11.2" fill="#151515" x="970.00" y="596.33">52</text>
<rect x="796.23" y="642.42" width="12.80" height="9.60" fill="#fff"/>
<text class="f" font-size="11.2" fill="#151515" x="797.03" y="650.42">40</text>
<rect x="825.06" y="638.33" width="12.80" height="9.60" fill="#fff"/>
<text class="f" font-size="11.2" fill="#151515" x="825.86" y="646.33">41</text>
<rect x="853.89" y="637.42" width="12.80" height="9.60" fill="#fff"/>
<text class="f" font-size="11.2" fill="#151515" x="854.69" y="645.42">41</text>
<rect x="882.71" y="636.06" width="12.80" height="9.60" fill="#fff"/>
<text class="f" font-size="11.2" fill="#151515" x="883.51" y="644.06">42</text>
<rect x="911.54" y="639.69" width="12.80" height="9.60" fill="#fff"/>
<text class="f" font-size="11.2" fill="#151515" x="912.34" y="647.69">41</text>
<rect x="940.37" y="645.60" width="12.80" height="9.60" fill="#fff"/>
<text class="f" font-size="11.2" fill="#151515" x="941.17" y="653.60">39</text>
<rect x="969.20" y="642.88" width="12.80" height="9.60" fill="#fff"/>
<text class="f" font-size="11.2" fill="#151515" x="970.00" y="650.88">41</text>
<rect x="777.40" y="652.42" width="12.80" height="9.60" fill="#fff"/>
<text class="f" font-size="11.2" fill="#151515" x="778.20" y="660.42">38</text>
<rect x="796.23" y="649.24" width="12.80" height="9.60" fill="#fff"/>
<text class="f" font-size="11.2" fill="#151515" x="797.03" y="657.24">39</text>
<rect x="825.06" y="642.42" width="12.80" height="9.60" fill="#fff"/>
<text class="f" font-size="11.2" fill="#151515" x="825.86" y="650.42">40</text>
<rect x="853.89" y="638.33" width="12.80" height="9.60" fill="#fff"/>
<text class="f" font-size="11.2" fill="#151515" x="854.69" y="646.33">41</text>
<rect x="882.71" y="642.42" width="12.80" height="9.60" fill="#fff"/>
<text class="f" font-size="11.2" fill="#151515" x="883.51" y="650.42">40</text>
<rect x="911.54" y="642.42" width="12.80" height="9.60" fill="#fff"/>
<text class="f" font-size="11.2" fill="#151515" x="912.34" y="650.42">40</text>
<rect x="940.37" y="646.06" width="12.80" height="9.60" fill="#fff"/>
<text class="f" font-size="11.2" fill="#151515" x="941.17" y="654.06">39</text>
<rect x="969.20" y="639.24" width="12.80" height="9.60" fill="#fff"/>
<text class="f" font-size="11.2" fill="#151515" x="970.00" y="647.24">40</text>
<rect x="769.40" y="657.42" width="12.80" height="9.60" fill="#fff"/>
<text class="f" font-size="11.2" fill="#151515" x="770.20" y="665.42">37</text>
<rect x="796.23" y="652.88" width="12.80" height="9.60" fill="#fff"/>
<text class="f" font-size="11.2" fill="#151515" x="797.03" y="660.88">38</text>
<rect x="825.06" y="649.24" width="12.80" height="9.60" fill="#fff"/>
<text class="f" font-size="11.2" fill="#151515" x="825.86" y="657.24">39</text>
<rect x="853.89" y="651.51" width="12.80" height="9.60" fill="#fff"/>
<text class="f" font-size="11.2" fill="#151515" x="854.69" y="659.51">38</text>
<rect x="882.71" y="651.97" width="12.80" height="9.60" fill="#fff"/>
<text class="f" font-size="11.2" fill="#151515" x="883.51" y="659.97">38</text>
<rect x="911.54" y="653.79" width="12.80" height="9.60" fill="#fff"/>
<text class="f" font-size="11.2" fill="#151515" x="912.34" y="661.79">38</text>
<rect x="940.37" y="658.33" width="12.80" height="9.60" fill="#fff"/>
<text class="f" font-size="11.2" fill="#151515" x="941.17" y="666.33">37</text>
<rect x="969.20" y="658.33" width="12.80" height="9.60" fill="#fff"/>
<text class="f" font-size="11.2" fill="#151515" x="970.00" y="666.33">37</text>
<rect x="777.40" y="681.97" width="12.80" height="9.60" fill="#fff"/>
<text class="f" font-size="11.2" fill="#151515" x="778.20" y="689.97">32</text>
<rect x="796.23" y="679.24" width="12.80" height="9.60" fill="#fff"/>
<text class="f" font-size="11.2" fill="#151515" x="797.03" y="687.24">32</text>
<rect x="825.06" y="675.61" width="12.80" height="9.60" fill="#fff"/>
<text class="f" font-size="11.2" fill="#151515" x="825.86" y="683.61">33</text>
<rect x="853.89" y="673.33" width="12.80" height="9.60" fill="#fff"/>
<text class="f" font-size="11.2" fill="#151515" x="854.69" y="681.33">33</text>
<rect x="882.71" y="672.88" width="12.80" height="9.60" fill="#fff"/>
<text class="f" font-size="11.2" fill="#151515" x="883.51" y="680.88">34</text>
<rect x="911.54" y="671.97" width="12.80" height="9.60" fill="#fff"/>
<text class="f" font-size="11.2" fill="#151515" x="912.34" y="679.97">34</text>
<rect x="940.37" y="675.61" width="12.80" height="9.60" fill="#fff"/>
<text class="f" font-size="11.2" fill="#151515" x="941.17" y="683.61">33</text>
<rect x="969.20" y="671.06" width="12.80" height="9.60" fill="#fff"/>
<text class="f" font-size="11.2" fill="#151515" x="970.00" y="679.06">34</text>
<rect x="777.40" y="689.24" width="12.80" height="9.60" fill="#fff"/>
<text class="f" font-size="11.2" fill="#151515" x="778.20" y="697.24">30</text>
<rect x="796.23" y="683.33" width="12.80" height="9.60" fill="#fff"/>
<text class="f" font-size="11.2" fill="#151515" x="797.03" y="691.33">31</text>
<rect x="825.06" y="680.15" width="12.80" height="9.60" fill="#fff"/>
<text class="f" font-size="11.2" fill="#151515" x="825.86" y="688.15">32</text>
<rect x="853.89" y="681.52" width="12.80" height="9.60" fill="#fff"/>
<text class="f" font-size="11.2" fill="#151515" x="854.69" y="689.52">32</text>
<rect x="882.71" y="681.06" width="12.80" height="9.60" fill="#fff"/>
<text class="f" font-size="11.2" fill="#151515" x="883.51" y="689.06">32</text>
<rect x="911.54" y="683.79" width="12.80" height="9.60" fill="#fff"/>
<text class="f" font-size="11.2" fill="#151515" x="912.34" y="691.79">31</text>
<rect x="940.37" y="686.97" width="12.80" height="9.60" fill="#fff"/>
<text class="f" font-size="11.2" fill="#151515" x="941.17" y="694.97">30</text>
<rect x="969.20" y="681.06" width="12.80" height="9.60" fill="#fff"/>
<text class="f" font-size="11.2" fill="#151515" x="970.00" y="689.06">32</text>
<rect x="777.40" y="725.15" width="12.80" height="9.60" fill="#fff"/>
<text class="f" font-size="11.2" fill="#151515" x="778.20" y="733.15">22</text>
<rect x="796.23" y="721.97" width="12.80" height="9.60" fill="#fff"/>
<text class="f" font-size="11.2" fill="#151515" x="797.03" y="729.97">23</text>
<rect x="825.06" y="720.15" width="12.80" height="9.60" fill="#fff"/>
<text class="f" font-size="11.2" fill="#151515" x="825.86" y="728.15">23</text>
<rect x="853.89" y="719.24" width="12.80" height="9.60" fill="#fff"/>
<text class="f" font-size="11.2" fill="#151515" x="854.69" y="727.24">23</text>
<rect x="882.71" y="719.24" width="12.80" height="9.60" fill="#fff"/>
<text class="f" font-size="11.2" fill="#151515" x="883.51" y="727.24">23</text>
<rect x="911.54" y="719.70" width="12.80" height="9.60" fill="#fff"/>
<text class="f" font-size="11.2" fill="#151515" x="912.34" y="727.70">23</text>
<rect x="940.37" y="720.15" width="12.80" height="9.60" fill="#fff"/>
<text class="f" font-size="11.2" fill="#151515" x="941.17" y="728.15">23</text>
<rect x="969.20" y="712.88" width="12.80" height="9.60" fill="#fff"/>
<text class="f" font-size="11.2" fill="#151515" x="970.00" y="720.88">25</text>
<text class="s" font-size="12.4" fill="#26323f" x="752.40" y="762.40">2023Q2</text>
<text class="s" font-size="12.4" fill="#26323f" x="953.80" y="762.40">2025Q1</text>
<text class="c" x="992.00" y="606.90" font-size="11.35" fill="#333">非中式餐饮</text>
<text class="c" x="992.00" y="642.50" font-size="11.35" fill="#333">饮品甜品</text>
<text class="c" x="992.00" y="660.40" font-size="11.35" fill="#333">小吃</text>
<text class="c" x="992.00" y="678.40" font-size="11.35" fill="#333">中式快餐</text>
<text class="c" x="992.00" y="696.60" font-size="11.35" fill="#333">烘焙</text>
<text class="c" x="992.00" y="714.60" font-size="11.35" fill="#333">中式休闲餐</text>
<text class="c" x="992.00" y="731.90" font-size="11.35" fill="#333">中式正餐</text>
<path d="M979.5 647.4L982.1 638H990" fill="none" stroke="#555" stroke-width="0.8"/>
<path d="M981.5 691.5H989.3" fill="none" stroke="#555" stroke-width="0.8"/>
<path d="M977.6 694.7L982.1 710H989.5" fill="none" stroke="#555" stroke-width="0.8"/>
<text class="c" x="772.40" y="819.20" font-size="10.2" fill="#333">商务部-复旦大学消费市场大数据实验室</text>
<text class="c" x="959.70" y="819.20" font-size="10.2" fill="#333">高岩</text>
<text class="s" font-size="10.4" fill="#333" x="984.60" y="819.20">GAOYAN</text>
<text class="s" font-size="11.6" fill="#333" x="1059.40" y="819.20">20</text>
<line x1="0.00" y1="831.40" x2="1080.00" y2="831.40" stroke="#b9bfd6" stroke-width="0.8"/>
<rect x="6.20" y="832.00" width="36.80" height="72.70" fill="#0b2344"/>
<text class="c" x="18.80" y="854.60" font-size="11.6" font-weight="700" fill="#fff">中</text>
<text class="c" x="18.80" y="868.10" font-size="11.6" font-weight="700" fill="#fff">式</text>
<text class="c" x="18.80" y="881.60" font-size="11.6" font-weight="700" fill="#fff">正</text>
<text class="c" x="18.80" y="895.10" font-size="11.6" font-weight="700" fill="#fff">餐</text>
<text class="c" x="47.30" y="862.20" font-size="28.03" font-weight="700" fill="#000" stroke="#000" stroke-width="0.5">中式正餐正在向日常化发展，意味着全场景，低人均，高连锁化率，并且菜系角度，</text>
<text class="c" x="47.30" y="896.20" font-size="28.03" font-weight="700" fill="#000" stroke="#000" stroke-width="0.5">从川粤江浙大菜系过渡到各个小菜系百花齐放走马圈地的阶段</text>
<line x1="48.00" y1="904.70" x2="1028.00" y2="904.70" stroke="#3a3a3a" stroke-width="1.3"/>
<text class="c" x="48.00" y="940.60" font-size="11.27" font-weight="700" fill="#17202e">餐饮市场门店开关店率景气度分析， 2024</text>
<line x1="48.00" y1="945.80" x2="418.00" y2="945.80" stroke="#56606c" stroke-width="1.3"/>
<path d="M72.6 995.4H415.8V1357.4" fill="none" stroke="#4a4a4a" stroke-width="1.2"/>
<path d="M72.6 995.4V1357.4H415.8" fill="none" stroke="#4a4a4a" stroke-width="1.2"/>
<line x1="68.60" y1="1357.40" x2="72.60" y2="1357.40" stroke="#4a4a4a" stroke-width="1"/>
<text class="s" font-size="12" fill="#333" text-anchor="end" x="62.00" y="1361.70">25%</text>
<line x1="68.60" y1="1333.27" x2="72.60" y2="1333.27" stroke="#4a4a4a" stroke-width="1"/>
<text class="s" font-size="12" fill="#333" text-anchor="end" x="62.00" y="1337.57">26%</text>
<line x1="68.60" y1="1309.13" x2="72.60" y2="1309.13" stroke="#4a4a4a" stroke-width="1"/>
<text class="s" font-size="12" fill="#333" text-anchor="end" x="62.00" y="1313.43">27%</text>
<line x1="68.60" y1="1285.00" x2="72.60" y2="1285.00" stroke="#4a4a4a" stroke-width="1"/>
<text class="s" font-size="12" fill="#333" text-anchor="end" x="62.00" y="1289.30">28%</text>
<line x1="68.60" y1="1260.87" x2="72.60" y2="1260.87" stroke="#4a4a4a" stroke-width="1"/>
<text class="s" font-size="12" fill="#333" text-anchor="end" x="62.00" y="1265.17">29%</text>
<line x1="68.60" y1="1236.73" x2="72.60" y2="1236.73" stroke="#4a4a4a" stroke-width="1"/>
<text class="s" font-size="12" fill="#333" text-anchor="end" x="62.00" y="1241.03">30%</text>
<line x1="68.60" y1="1212.60" x2="72.60" y2="1212.60" stroke="#4a4a4a" stroke-width="1"/>
<text class="s" font-size="12" fill="#333" text-anchor="end" x="62.00" y="1216.90">31%</text>
<line x1="68.60" y1="1188.47" x2="72.60" y2="1188.47" stroke="#4a4a4a" stroke-width="1"/>
<text class="s" font-size="12" fill="#333" text-anchor="end" x="62.00" y="1192.77">32%</text>
<line x1="68.60" y1="1164.33" x2="72.60" y2="1164.33" stroke="#4a4a4a" stroke-width="1"/>
<text class="s" font-size="12" fill="#333" text-anchor="end" x="62.00" y="1168.63">33%</text>
<line x1="68.60" y1="1140.20" x2="72.60" y2="1140.20" stroke="#4a4a4a" stroke-width="1"/>
<text class="s" font-size="12" fill="#333" text-anchor="end" x="62.00" y="1144.50">34%</text>
<line x1="68.60" y1="1116.07" x2="72.60" y2="1116.07" stroke="#4a4a4a" stroke-width="1"/>
<text class="s" font-size="12" fill="#333" text-anchor="end" x="62.00" y="1120.37">35%</text>
<line x1="68.60" y1="1091.93" x2="72.60" y2="1091.93" stroke="#4a4a4a" stroke-width="1"/>
<text class="s" font-size="12" fill="#333" text-anchor="end" x="62.00" y="1096.23">36%</text>
<line x1="68.60" y1="1067.80" x2="72.60" y2="1067.80" stroke="#4a4a4a" stroke-width="1"/>
<text class="s" font-size="12" fill="#333" text-anchor="end" x="62.00" y="1072.10">37%</text>
<line x1="68.60" y1="1043.67" x2="72.60" y2="1043.67" stroke="#4a4a4a" stroke-width="1"/>
<text class="s" font-size="12" fill="#333" text-anchor="end" x="62.00" y="1047.97">38%</text>
<line x1="68.60" y1="1019.53" x2="72.60" y2="1019.53" stroke="#4a4a4a" stroke-width="1"/>
<text class="s" font-size="12" fill="#333" text-anchor="end" x="62.00" y="1023.83">39%</text>
<line x1="68.60" y1="995.40" x2="72.60" y2="995.40" stroke="#4a4a4a" stroke-width="1"/>
<text class="s" font-size="12" fill="#333" text-anchor="end" x="62.00" y="999.70">40%</text>
<line x1="72.60" y1="1357.40" x2="72.60" y2="1361.40" stroke="#4a4a4a" stroke-width="1"/>
<text class="s" font-size="12" fill="#333" text-anchor="middle" x="72.60" y="1377.20">25%</text>
<line x1="121.63" y1="1357.40" x2="121.63" y2="1361.40" stroke="#4a4a4a" stroke-width="1"/>
<text class="s" font-size="12" fill="#333" text-anchor="middle" x="121.63" y="1377.20">30%</text>
<line x1="170.66" y1="1357.40" x2="170.66" y2="1361.40" stroke="#4a4a4a" stroke-width="1"/>
<text class="s" font-size="12" fill="#333" text-anchor="middle" x="170.66" y="1377.20">35%</text>
<line x1="219.69" y1="1357.40" x2="219.69" y2="1361.40" stroke="#4a4a4a" stroke-width="1"/>
<text class="s" font-size="12" fill="#333" text-anchor="middle" x="219.69" y="1377.20">40%</text>
<line x1="268.71" y1="1357.40" x2="268.71" y2="1361.40" stroke="#4a4a4a" stroke-width="1"/>
<text class="s" font-size="12" fill="#333" text-anchor="middle" x="268.71" y="1377.20">45%</text>
<line x1="317.74" y1="1357.40" x2="317.74" y2="1361.40" stroke="#4a4a4a" stroke-width="1"/>
<text class="s" font-size="12" fill="#333" text-anchor="middle" x="317.74" y="1377.20">50%</text>
<line x1="366.77" y1="1357.40" x2="366.77" y2="1361.40" stroke="#4a4a4a" stroke-width="1"/>
<text class="s" font-size="12" fill="#333" text-anchor="middle" x="366.77" y="1377.20">55%</text>
<line x1="415.80" y1="1357.40" x2="415.80" y2="1361.40" stroke="#4a4a4a" stroke-width="1"/>
<text class="s" font-size="12" fill="#333" text-anchor="middle" x="415.80" y="1377.20">60%</text>
<line x1="72.60" y1="1116.07" x2="415.80" y2="1116.07" stroke="#4a4a4a" stroke-width="1"/>
<line x1="288.33" y1="995.40" x2="288.33" y2="1357.40" stroke="#4a4a4a" stroke-width="1"/>
<text class="c" x="56.50" y="977.80" font-size="11" fill="#333">关店率</text>
<text class="c" x="394.50" y="1398.20" font-size="11" fill="#333">开店率</text>
<circle cx="142.60" cy="974.20" r="16.30" fill="#0a1c36"/>
<text class="f" font-size="10.6" fill="#1a1a1a" transform="translate(166.20 979.00) scale(1.16 1)">100,000</text>
<circle cx="306.80" cy="974.20" r="5.60" fill="#0a1c36"/>
<text class="c" x="319.80" y="979.00" font-size="11" fill="#333">中式正餐子业态</text>
<text class="f" font-size="10.6" fill="#333" transform="translate(397.20 979.00) scale(1.1 1)">L2</text>
<clipPath id="cp2"><rect x="72.6" y="995.4" width="343.8" height="362.0"/></clipPath>
<g clip-path="url(#cp2)">
<circle cx="405.40" cy="1089.00" r="40.70" fill="#0a1c36"/>
</g>
<circle cx="240.40" cy="1047.10" r="23.10" fill="#0a1c36"/>
<circle cx="270.90" cy="1052.40" r="9.90" fill="#0a1c36"/>
<circle cx="302.70" cy="1046.30" r="13.00" fill="#0a1c36"/>
<circle cx="236.30" cy="1083.80" r="12.20" fill="#0a1c36"/>
<circle cx="193.50" cy="1099.30" r="20.10" fill="#0a1c36"/>
<circle cx="220.00" cy="1100.00" r="16.00" fill="#0a1c36"/>
<circle cx="245.30" cy="1131.00" r="14.80" fill="#0a1c36"/>
<circle cx="234.30" cy="1133.90" r="6.70" fill="#0a1c36"/>
<circle cx="209.80" cy="1166.10" r="8.60" fill="#0a1c36"/>
<circle cx="265.60" cy="1199.30" r="8.60" fill="#0a1c36"/>
<circle cx="128.30" cy="1253.50" r="18.20" fill="#0a1c36"/>
<circle cx="160.10" cy="1284.90" r="7.20" fill="#0a1c36"/>
<line x1="216.00" y1="1022.70" x2="223.30" y2="1030.00" stroke="#444" stroke-width="0.9"/>
<line x1="273.80" y1="1033.00" x2="272.00" y2="1042.50" stroke="#444" stroke-width="0.9"/>
<line x1="167.00" y1="1086.20" x2="176.00" y2="1091.00" stroke="#444" stroke-width="0.9"/>
<rect x="362.00" y="1084.60" width="64.50" height="12.80" fill="#0a1c36"/>
<text class="f" font-size="10.6" fill="#1a1a1a" transform="translate(190.30 1020.60) scale(1.16 1)">201,325</text>
<text class="c" x="229.50" y="1051.20" font-size="10.9" fill="#fff">粤菜</text>
<text class="c" x="262.80" y="1016.60" font-size="10.9" fill="#333">云贵菜</text>
<text class="f" font-size="10.6" fill="#222" transform="translate(262.80 1029.20) scale(1.16 1)">36,849</text>
<text class="c" x="320.60" y="1044.30" font-size="10.9" fill="#333">西北菜</text>
<text class="f" font-size="10.6" fill="#222" transform="translate(320.60 1056.50) scale(1.16 1)">63,334</text>
<text class="f" font-size="10.6" fill="#fff" transform="translate(371.60 1080.10) scale(1.16 1)">623,077</text>
<text class="c" x="363.40" y="1094.60" font-size="10.9" fill="#fff">家常/农家菜</text>
<text class="c" x="252.60" y="1079.70" font-size="10.9" fill="#333">京鲁菜</text>
<text class="f" font-size="10.6" fill="#222" transform="translate(252.60 1094.40) scale(1.16 1)">55,929</text>
<text class="f" font-size="10.6" fill="#1a1a1a" transform="translate(134.40 1084.20) scale(1.16 1)">151,716</text>
<text class="c" x="178.00" y="1103.30" font-size="10.9" fill="#fff">川菜</text>
<text class="c" x="209.80" y="1108.60" font-size="10.9" fill="#fff">湘菜</text>
<text class="f" font-size="10.6" fill="#1a1a1a" transform="translate(240.40 1111.50) scale(1.16 1)">96,002</text>
<text class="c" x="194.30" y="1131.90" font-size="10.9" fill="#333">闽菜</text>
<text class="f" font-size="10.6" fill="#222" transform="translate(194.30 1144.90) scale(1.16 1)">16,957</text>
<text class="c" x="264.80" y="1127.80" font-size="10.9" fill="#333">东北菜</text>
<text class="f" font-size="10.6" fill="#222" transform="translate(264.80 1140.00) scale(1.16 1)">82,268</text>
<text class="c" x="222.90" y="1163.20" font-size="10.9" fill="#333">其他地方菜</text>
<text class="f" font-size="10.6" fill="#222" transform="translate(222.90 1175.50) scale(1.16 1)">28,128</text>
<text class="c" x="279.00" y="1195.30" font-size="10.9" fill="#333">赣菜</text>
<text class="f" font-size="10.6" fill="#222" transform="translate(279.00 1208.70) scale(1.16 1)">27,542</text>
<text class="c" x="151.40" y="1250.70" font-size="10.9" fill="#333">本帮江浙菜</text>
<text class="f" font-size="10.6" fill="#222" transform="translate(151.40 1263.70) scale(1.16 1)">125,084</text>
<text class="c" x="171.10" y="1282.00" font-size="10.9" fill="#333">徽菜</text>
<text class="f" font-size="10.6" fill="#222" transform="translate(171.10 1295.00) scale(1.16 1)">19,554</text>
<text class="c" x="113.80" y="1286.10" font-size="10.9" fill="#333">楚菜</text>
<text class="f" font-size="10.6" fill="#222" transform="translate(113.80 1299.60) scale(1.16 1)">14,319</text>
<line x1="50.00" y1="1410.40" x2="1030.00" y2="1410.40" stroke="#3a3a3a" stroke-width="1.3"/>
<text class="c" transform="translate(51.00 1431.60) skewX(-12)" font-size="11.3" font-weight="700" fill="#333">数据来源：高岩餐观鹰眼景气度数据库</text>
<text class="c" x="772.40" y="1427.60" font-size="10.2" fill="#333">商务部-复旦大学消费市场大数据实验室</text>
<text class="c" x="959.70" y="1427.60" font-size="10.2" fill="#333">高岩</text>
<text class="s" font-size="10.4" fill="#333" x="984.60" y="1427.60">GAOYAN</text>
<text class="s" font-size="11.6" fill="#333" x="1059.40" y="1427.60">21</text>
<text class="c" x="448.00" y="940.60" font-size="11.27" font-weight="700" fill="#17202e">各主要渠道餐饮门店数及店均指标分析</text>
<line x1="448.00" y1="945.80" x2="1028.00" y2="945.80" stroke="#56606c" stroke-width="1.3"/>
<text class="c" x="469.60" y="962.70" font-size="11.7" fill="#333">单位: (万)</text>
<path d="M499.6 1124.1C499.6 1124.1 531.9 1124.0 531.9 1124.0C531.9 1124.0 564.3 1124.2 564.3 1124.2C564.3 1124.2 596.6 1123.9 596.6 1123.9C596.6 1123.9 628.9 1124.1 628.9 1124.1C628.9 1124.1 661.2 1124.1 661.2 1124.1C661.2 1124.1 693.6 1123.8 693.6 1123.8C693.6 1123.8 725.9 1124.0 725.9 1124.0L725.9 1125.9C725.9 1125.9 693.6 1125.9 693.6 1125.9C693.6 1125.9 661.2 1125.9 661.2 1125.9C661.2 1125.9 628.9 1125.9 628.9 1125.9C628.9 1125.9 596.6 1125.9 596.6 1125.9C596.6 1125.9 564.3 1125.9 564.3 1125.9C564.3 1125.9 531.9 1125.9 531.9 1125.9C531.9 1125.9 499.6 1125.9 499.6 1125.9Z" fill="#071c35"/>
<path d="M499.6 1120.7C499.6 1120.7 531.9 1120.4 531.9 1120.4C531.9 1120.4 564.3 1121.0 564.3 1121.0C564.3 1121.0 596.6 1120.1 596.6 1120.1C596.6 1120.1 628.9 1120.7 628.9 1120.7C628.9 1120.7 661.2 1120.7 661.2 1120.7C661.2 1120.7 693.6 1119.8 693.6 1119.8C693.6 1119.8 725.9 1120.4 725.9 1120.4L725.9 1124.0C725.9 1124.0 693.6 1123.8 693.6 1123.8C693.6 1123.8 661.2 1124.1 661.2 1124.1C661.2 1124.1 628.9 1124.1 628.9 1124.1C628.9 1124.1 596.6 1123.9 596.6 1123.9C596.6 1123.9 564.3 1124.2 564.3 1124.2C564.3 1124.2 531.9 1124.0 531.9 1124.0C531.9 1124.0 499.6 1124.1 499.6 1124.1Z" fill="#fcd002"/>
<path d="M499.6 1118.9C499.6 1118.9 531.9 1118.5 531.9 1118.5C531.9 1118.5 564.3 1119.3 564.3 1119.3C564.3 1119.3 596.6 1118.1 596.6 1118.1C596.6 1118.1 628.9 1118.9 628.9 1118.9C628.9 1118.9 661.2 1118.9 661.2 1118.9C661.2 1118.9 693.6 1117.7 693.6 1117.7C693.6 1117.7 725.9 1118.5 725.9 1118.5L725.9 1120.4C725.9 1120.4 693.6 1119.8 693.6 1119.8C693.6 1119.8 661.2 1120.7 661.2 1120.7C661.2 1120.7 628.9 1120.7 628.9 1120.7C628.9 1120.7 596.6 1120.1 596.6 1120.1C596.6 1120.1 564.3 1121.0 564.3 1121.0C564.3 1121.0 531.9 1120.4 531.9 1120.4C531.9 1120.4 499.6 1120.7 499.6 1120.7Z" fill="#d5fb6f"/>
<path d="M499.6 1116.0C499.6 1116.0 531.9 1115.5 531.9 1115.5C531.9 1115.5 564.3 1116.6 564.3 1116.6C564.3 1116.6 596.6 1114.9 596.6 1114.9C596.6 1114.9 628.9 1116.0 628.9 1116.0C628.9 1116.0 661.2 1116.0 661.2 1116.0C661.2 1116.0 693.6 1114.3 693.6 1114.3C693.6 1114.3 725.9 1115.5 725.9 1115.5L725.9 1118.5C725.9 1118.5 693.6 1117.7 693.6 1117.7C693.6 1117.7 661.2 1118.9 661.2 1118.9C661.2 1118.9 628.9 1118.9 628.9 1118.9C628.9 1118.9 596.6 1118.1 596.6 1118.1C596.6 1118.1 564.3 1119.3 564.3 1119.3C564.3 1119.3 531.9 1118.5 531.9 1118.5C531.9 1118.5 499.6 1118.9 499.6 1118.9Z" fill="#05ecc2"/>
<path d="M499.6 1113.2C499.6 1113.2 531.9 1112.4 531.9 1112.4C531.9 1112.4 564.3 1113.9 564.3 1113.9C564.3 1113.9 596.6 1111.7 596.6 1111.7C596.6 1111.7 628.9 1113.2 628.9 1113.2C628.9 1113.2 661.2 1113.2 661.2 1113.2C661.2 1113.2 693.6 1110.9 693.6 1110.9C693.6 1110.9 725.9 1112.4 725.9 1112.4L725.9 1115.5C725.9 1115.5 693.6 1114.3 693.6 1114.3C693.6 1114.3 661.2 1116.0 661.2 1116.0C661.2 1116.0 628.9 1116.0 628.9 1116.0C628.9 1116.0 596.6 1114.9 596.6 1114.9C596.6 1114.9 564.3 1116.6 564.3 1116.6C564.3 1116.6 531.9 1115.5 531.9 1115.5C531.9 1115.5 499.6 1116.0 499.6 1116.0Z" fill="#07a8e7"/>
<path d="M499.6 1108.0C499.6 1108.0 531.9 1106.9 531.9 1106.9C531.9 1106.9 564.3 1109.0 564.3 1109.0C564.3 1109.0 596.6 1105.9 596.6 1105.9C596.6 1105.9 628.9 1108.0 628.9 1108.0C628.9 1108.0 661.2 1108.0 661.2 1108.0C661.2 1108.0 693.6 1104.8 693.6 1104.8C693.6 1104.8 725.9 1106.9 725.9 1106.9L725.9 1112.4C725.9 1112.4 693.6 1110.9 693.6 1110.9C693.6 1110.9 661.2 1113.2 661.2 1113.2C661.2 1113.2 628.9 1113.2 628.9 1113.2C628.9 1113.2 596.6 1111.7 596.6 1111.7C596.6 1111.7 564.3 1113.9 564.3 1113.9C564.3 1113.9 531.9 1112.4 531.9 1112.4C531.9 1112.4 499.6 1113.2 499.6 1113.2Z" fill="#2458c9"/>
<path d="M499.6 1101.7C499.6 1101.7 531.9 1100.6 531.9 1100.6C531.9 1100.6 564.3 1102.7 564.3 1102.7C564.3 1102.7 596.6 1099.6 596.6 1099.6C596.6 1099.6 628.9 1101.7 628.9 1101.7C628.9 1101.7 661.2 1101.7 661.2 1101.7C661.2 1101.7 693.6 1098.5 693.6 1098.5C693.6 1098.5 725.9 1100.6 725.9 1100.6L725.9 1106.9C725.9 1106.9 693.6 1104.8 693.6 1104.8C693.6 1104.8 661.2 1108.0 661.2 1108.0C661.2 1108.0 628.9 1108.0 628.9 1108.0C628.9 1108.0 596.6 1105.9 596.6 1105.9C596.6 1105.9 564.3 1109.0 564.3 1109.0C564.3 1109.0 531.9 1106.9 531.9 1106.9C531.9 1106.9 499.6 1108.0 499.6 1108.0Z" fill="#bfbfbf"/>
<path d="M499.6 1093.2C499.6 1093.2 531.9 1092.2 531.9 1092.2C531.9 1092.2 564.3 1094.3 564.3 1094.3C564.3 1094.3 596.6 1091.1 596.6 1091.1C596.6 1091.1 628.9 1093.2 628.9 1093.2C628.9 1093.2 661.2 1093.2 661.2 1093.2C661.2 1093.2 693.6 1090.1 693.6 1090.1C693.6 1090.1 725.9 1092.2 725.9 1092.2L725.9 1100.6C725.9 1100.6 693.6 1098.5 693.6 1098.5C693.6 1098.5 661.2 1101.7 661.2 1101.7C661.2 1101.7 628.9 1101.7 628.9 1101.7C628.9 1101.7 596.6 1099.6 596.6 1099.6C596.6 1099.6 564.3 1102.7 564.3 1102.7C564.3 1102.7 531.9 1100.6 531.9 1100.6C531.9 1100.6 499.6 1101.7 499.6 1101.7Z" fill="#fcd002"/>
<path d="M499.6 1083.7C499.6 1083.7 531.9 1082.7 531.9 1082.7C531.9 1082.7 564.3 1084.8 564.3 1084.8C564.3 1084.8 596.6 1081.6 596.6 1081.6C596.6 1081.6 628.9 1083.7 628.9 1083.7C628.9 1083.7 661.2 1083.7 661.2 1083.7C661.2 1083.7 693.6 1079.5 693.6 1079.5C693.6 1079.5 725.9 1082.7 725.9 1082.7L725.9 1092.2C725.9 1092.2 693.6 1090.1 693.6 1090.1C693.6 1090.1 661.2 1093.2 661.2 1093.2C661.2 1093.2 628.9 1093.2 628.9 1093.2C628.9 1093.2 596.6 1091.1 596.6 1091.1C596.6 1091.1 564.3 1094.3 564.3 1094.3C564.3 1094.3 531.9 1092.2 531.9 1092.2C531.9 1092.2 499.6 1093.2 499.6 1093.2Z" fill="#d5fb6f"/>
<path d="M499.6 1069.0C499.6 1069.0 531.9 1067.9 531.9 1067.9C531.9 1067.9 564.3 1071.1 564.3 1071.1C564.3 1071.1 596.6 1069.0 596.6 1069.0C596.6 1069.0 628.9 1071.1 628.9 1071.1C628.9 1071.1 661.2 1071.1 661.2 1071.1C661.2 1071.1 693.6 1065.8 693.6 1065.8C693.6 1065.8 725.9 1070.0 725.9 1070.0L725.9 1082.7C725.9 1082.7 693.6 1079.5 693.6 1079.5C693.6 1079.5 661.2 1083.7 661.2 1083.7C661.2 1083.7 628.9 1083.7 628.9 1083.7C628.9 1083.7 596.6 1081.6 596.6 1081.6C596.6 1081.6 564.3 1084.8 564.3 1084.8C564.3 1084.8 531.9 1082.7 531.9 1082.7C531.9 1082.7 499.6 1083.7 499.6 1083.7Z" fill="#05ecc2"/>
<path d="M499.6 1053.2C499.6 1053.2 531.9 1052.1 531.9 1052.1C531.9 1052.1 564.3 1055.3 564.3 1055.3C564.3 1055.3 596.6 1053.2 596.6 1053.2C596.6 1053.2 628.9 1055.3 628.9 1055.3C628.9 1055.3 661.2 1055.3 661.2 1055.3C661.2 1055.3 693.6 1050.0 693.6 1050.0C693.6 1050.0 725.9 1054.2 725.9 1054.2L725.9 1070.0C725.9 1070.0 693.6 1065.8 693.6 1065.8C693.6 1065.8 661.2 1071.1 661.2 1071.1C661.2 1071.1 628.9 1071.1 628.9 1071.1C628.9 1071.1 596.6 1069.0 596.6 1069.0C596.6 1069.0 564.3 1071.1 564.3 1071.1C564.3 1071.1 531.9 1067.9 531.9 1067.9C531.9 1067.9 499.6 1069.0 499.6 1069.0Z" fill="#07a8e7"/>
<path d="M499.6 1032.1C499.6 1032.1 531.9 1031.0 531.9 1031.0C531.9 1031.0 564.3 1035.3 564.3 1035.3C564.3 1035.3 596.6 1033.1 596.6 1033.1C596.6 1033.1 628.9 1035.3 628.9 1035.3C628.9 1035.3 661.2 1035.3 661.2 1035.3C661.2 1035.3 693.6 1028.9 693.6 1028.9C693.6 1028.9 725.9 1034.2 725.9 1034.2L725.9 1054.2C725.9 1054.2 693.6 1050.0 693.6 1050.0C693.6 1050.0 661.2 1055.3 661.2 1055.3C661.2 1055.3 628.9 1055.3 628.9 1055.3C628.9 1055.3 596.6 1053.2 596.6 1053.2C596.6 1053.2 564.3 1055.3 564.3 1055.3C564.3 1055.3 531.9 1052.1 531.9 1052.1C531.9 1052.1 499.6 1053.2 499.6 1053.2Z" fill="#2458c9"/>
<path d="M499.6 1018.2C499.6 1018.2 531.9 1012.0 531.9 1012.0C531.9 1012.0 564.3 1014.0 564.3 1014.0C564.3 1014.0 596.6 1008.9 596.6 1008.9C596.6 1008.9 628.9 1009.9 628.9 1009.9C628.9 1009.9 661.2 1005.8 661.2 1005.8C661.2 1005.8 693.6 992.3 693.6 992.3C693.6 992.3 725.9 993.3 725.9 993.3L725.9 1034.2C725.9 1034.2 693.6 1028.9 693.6 1028.9C693.6 1028.9 661.2 1035.3 661.2 1035.3C661.2 1035.3 628.9 1035.3 628.9 1035.3C628.9 1035.3 596.6 1033.1 596.6 1033.1C596.6 1033.1 564.3 1035.3 564.3 1035.3C564.3 1035.3 531.9 1031.0 531.9 1031.0C531.9 1031.0 499.6 1032.1 499.6 1032.1Z" fill="#071c35"/>
<path d="M494.6 1023.2q8.4 -3.4 16.7 0q8.4 3.4 16.7 0q8.4 -3.4 16.7 0q8.4 3.4 16.7 0q8.4 -3.4 16.7 0q8.4 3.4 16.7 0q8.4 -3.4 16.7 0q8.4 3.4 16.7 0q8.4 -3.4 16.7 0q8.4 3.4 16.7 0q8.4 -3.4 16.7 0q8.4 3.4 16.7 0q8.4 -3.4 16.7 0q8.4 3.4 16.7 0" fill="none" stroke="#fff" stroke-width="4.6"/>
<line x1="499.60" y1="982.00" x2="499.60" y2="1125.90" stroke="#4a4a4a" stroke-width="1"/>
<line x1="496.10" y1="1125.90" x2="499.60" y2="1125.90" stroke="#4a4a4a" stroke-width="1"/>
<text class="f" font-size="9" fill="#222" transform="translate(485.43 1128.90) scale(1.06 1)">0</text>
<line x1="496.10" y1="1104.82" x2="499.60" y2="1104.82" stroke="#4a4a4a" stroke-width="1"/>
<text class="f" font-size="9" fill="#222" transform="translate(480.66 1107.82) scale(1.06 1)">20</text>
<line x1="496.10" y1="1083.74" x2="499.60" y2="1083.74" stroke="#4a4a4a" stroke-width="1"/>
<text class="f" font-size="9" fill="#222" transform="translate(480.66 1086.74) scale(1.06 1)">40</text>
<line x1="496.10" y1="1062.66" x2="499.60" y2="1062.66" stroke="#4a4a4a" stroke-width="1"/>
<text class="f" font-size="9" fill="#222" transform="translate(480.66 1065.66) scale(1.06 1)">60</text>
<line x1="496.10" y1="1041.58" x2="499.60" y2="1041.58" stroke="#4a4a4a" stroke-width="1"/>
<text class="f" font-size="9" fill="#222" transform="translate(480.66 1044.58) scale(1.06 1)">80</text>
<line x1="496.10" y1="1006.80" x2="499.60" y2="1006.80" stroke="#4a4a4a" stroke-width="1"/>
<text class="f" font-size="9" fill="#222" transform="translate(475.89 1009.80) scale(1.06 1)">140</text>
<line x1="496.10" y1="986.10" x2="499.60" y2="986.10" stroke="#4a4a4a" stroke-width="1"/>
<text class="f" font-size="9" fill="#222" transform="translate(475.89 989.10) scale(1.06 1)">160</text>
<rect x="502.90" y="1104.30" width="7.40" height="8.00" fill="#2458c9" rx="2.5"/>
<rect x="502.90" y="1108.50" width="7.40" height="3.50" fill="#07a8e7"/>
<rect x="502.90" y="1112.00" width="7.40" height="2.50" fill="#05ecc2"/>
<rect x="502.90" y="1114.50" width="7.40" height="2.00" fill="#d5fb6f"/>
<rect x="502.90" y="1116.50" width="7.40" height="2.20" fill="#fcd002"/>
<rect x="502.90" y="1118.70" width="7.40" height="2.30" fill="#111"/>
<rect x="502.90" y="1121.00" width="7.40" height="8.50" fill="#2458c9" rx="1"/>
<text class="f" font-size="9" fill="#fff" font-weight="700" x="504.35" y="1128.60">1</text>
<rect x="527.73" y="1104.30" width="7.40" height="8.00" fill="#2458c9" rx="2.5"/>
<rect x="527.73" y="1108.50" width="7.40" height="3.50" fill="#07a8e7"/>
<rect x="527.73" y="1112.00" width="7.40" height="2.50" fill="#05ecc2"/>
<rect x="527.73" y="1114.50" width="7.40" height="2.00" fill="#d5fb6f"/>
<rect x="527.73" y="1116.50" width="7.40" height="2.20" fill="#fcd002"/>
<rect x="527.73" y="1118.70" width="7.40" height="2.30" fill="#111"/>
<rect x="527.73" y="1121.00" width="7.40" height="8.50" fill="#2458c9" rx="1"/>
<text class="f" font-size="9" fill="#fff" font-weight="700" x="529.18" y="1128.60">1</text>
<rect x="560.06" y="1104.30" width="7.40" height="8.00" fill="#2458c9" rx="2.5"/>
<rect x="560.06" y="1108.50" width="7.40" height="3.50" fill="#07a8e7"/>
<rect x="560.06" y="1112.00" width="7.40" height="2.50" fill="#05ecc2"/>
<rect x="560.06" y="1114.50" width="7.40" height="2.00" fill="#d5fb6f"/>
<rect x="560.06" y="1116.50" width="7.40" height="2.20" fill="#fcd002"/>
<rect x="560.06" y="1118.70" width="7.40" height="2.30" fill="#111"/>
<rect x="560.06" y="1121.00" width="7.40" height="8.50" fill="#2458c9" rx="1"/>
<text class="f" font-size="9" fill="#fff" font-weight="700" x="561.51" y="1128.60">1</text>
<rect x="592.39" y="1104.30" width="7.40" height="8.00" fill="#2458c9" rx="2.5"/>
<rect x="592.39" y="1108.50" width="7.40" height="3.50" fill="#07a8e7"/>
<rect x="592.39" y="1112.00" width="7.40" height="2.50" fill="#05ecc2"/>
<rect x="592.39" y="1114.50" width="7.40" height="2.00" fill="#d5fb6f"/>
<rect x="592.39" y="1116.50" width="7.40" height="2.20" fill="#fcd002"/>
<rect x="592.39" y="1118.70" width="7.40" height="2.30" fill="#111"/>
<rect x="592.39" y="1121.00" width="7.40" height="8.50" fill="#2458c9" rx="1"/>
<text class="f" font-size="9" fill="#fff" font-weight="700" x="593.84" y="1128.60">1</text>
<rect x="624.71" y="1104.30" width="7.40" height="8.00" fill="#2458c9" rx="2.5"/>
<rect x="624.71" y="1108.50" width="7.40" height="3.50" fill="#07a8e7"/>
<rect x="624.71" y="1112.00" width="7.40" height="2.50" fill="#05ecc2"/>
<rect x="624.71" y="1114.50" width="7.40" height="2.00" fill="#d5fb6f"/>
<rect x="624.71" y="1116.50" width="7.40" height="2.20" fill="#fcd002"/>
<rect x="624.71" y="1118.70" width="7.40" height="2.30" fill="#111"/>
<rect x="624.71" y="1121.00" width="7.40" height="8.50" fill="#2458c9" rx="1"/>
<text class="f" font-size="9" fill="#fff" font-weight="700" x="626.16" y="1128.60">1</text>
<rect x="657.04" y="1104.30" width="7.40" height="8.00" fill="#2458c9" rx="2.5"/>
<rect x="657.04" y="1108.50" width="7.40" height="3.50" fill="#07a8e7"/>
<rect x="657.04" y="1112.00" width="7.40" height="2.50" fill="#05ecc2"/>
<rect x="657.04" y="1114.50" width="7.40" height="2.00" fill="#d5fb6f"/>
<rect x="657.04" y="1116.50" width="7.40" height="2.20" fill="#fcd002"/>
<rect x="657.04" y="1118.70" width="7.40" height="2.30" fill="#111"/>
<rect x="657.04" y="1121.00" width="7.40" height="8.50" fill="#2458c9" rx="1"/>
<text class="f" font-size="9" fill="#fff" font-weight="700" x="658.49" y="1128.60">1</text>
<rect x="689.37" y="1104.30" width="7.40" height="8.00" fill="#2458c9" rx="2.5"/>
<rect x="689.37" y="1108.50" width="7.40" height="3.50" fill="#07a8e7"/>
<rect x="689.37" y="1112.00" width="7.40" height="2.50" fill="#05ecc2"/>
<rect x="689.37" y="1114.50" width="7.40" height="2.00" fill="#d5fb6f"/>
<rect x="689.37" y="1116.50" width="7.40" height="2.20" fill="#fcd002"/>
<rect x="689.37" y="1118.70" width="7.40" height="2.30" fill="#111"/>
<rect x="689.37" y="1121.00" width="7.40" height="8.50" fill="#2458c9" rx="1"/>
<text class="f" font-size="9" fill="#fff" font-weight="700" x="690.82" y="1128.60">1</text>
<rect x="716.20" y="1104.30" width="7.40" height="8.00" fill="#2458c9" rx="2.5"/>
<rect x="716.20" y="1108.50" width="7.40" height="3.50" fill="#07a8e7"/>
<rect x="716.20" y="1112.00" width="7.40" height="2.50" fill="#05ecc2"/>
<rect x="716.20" y="1114.50" width="7.40" height="2.00" fill="#d5fb6f"/>
<rect x="716.20" y="1116.50" width="7.40" height="2.20" fill="#fcd002"/>
<rect x="716.20" y="1118.70" width="7.40" height="2.30" fill="#111"/>
<rect x="716.20" y="1121.00" width="7.40" height="8.50" fill="#2458c9" rx="1"/>
<text class="f" font-size="9" fill="#fff" font-weight="700" x="717.65" y="1128.60">1</text>
<text class="f" font-size="9" fill="#333" transform="translate(504.42 1106.32) scale(0.97 1)">6</text>
<rect x="502.90" y="1104.30" width="7.40" height="4.00" fill="#2458c9" rx="2"/>
<text class="f" font-size="9" fill="#333" transform="translate(529.25 1105.27) scale(0.97 1)">6</text>
<rect x="527.73" y="1104.30" width="7.40" height="4.00" fill="#2458c9" rx="2"/>
<text class="f" font-size="9" fill="#333" transform="translate(561.57 1108.97) scale(0.97 1)">6</text>
<text class="f" font-size="9" fill="#333" transform="translate(593.90 1104.21) scale(0.97 1)">6</text>
<rect x="592.39" y="1104.30" width="7.40" height="4.00" fill="#2458c9" rx="2"/>
<text class="f" font-size="9" fill="#333" transform="translate(626.23 1106.32) scale(0.97 1)">6</text>
<rect x="624.71" y="1104.30" width="7.40" height="4.00" fill="#2458c9" rx="2"/>
<text class="f" font-size="9" fill="#333" transform="translate(658.56 1106.32) scale(0.97 1)">6</text>
<rect x="657.04" y="1104.30" width="7.40" height="4.00" fill="#2458c9" rx="2"/>
<text class="f" font-size="9" fill="#333" transform="translate(690.89 1104.76) scale(0.97 1)">6</text>
<text class="f" font-size="9" fill="#333" transform="translate(717.72 1105.27) scale(0.97 1)">6</text>
<rect x="716.20" y="1104.30" width="7.40" height="4.00" fill="#2458c9" rx="2"/>
<text class="f" font-size="9" fill="#222" transform="translate(504.42 1100.54) scale(0.97 1)">8</text>
<text class="f" font-size="9" fill="#222" transform="translate(529.25 1099.49) scale(0.97 1)">8</text>
<text class="f" font-size="9" fill="#222" transform="translate(561.57 1101.60) scale(0.97 1)">8</text>
<text class="f" font-size="9" fill="#222" transform="translate(593.90 1098.43) scale(0.97 1)">8</text>
<text class="f" font-size="9" fill="#222" transform="translate(626.23 1100.54) scale(0.97 1)">8</text>
<text class="f" font-size="9" fill="#222" transform="translate(658.56 1100.54) scale(0.97 1)">8</text>
<text class="f" font-size="9" fill="#222" transform="translate(690.89 1097.38) scale(0.97 1)">8</text>
<text class="f" font-size="9" fill="#222" transform="translate(717.72 1099.49) scale(0.97 1)">8</text>
<text class="f" font-size="9" fill="#222" transform="translate(504.42 1091.58) scale(0.97 1)">9</text>
<text class="f" font-size="9" fill="#222" transform="translate(529.25 1090.53) scale(0.97 1)">9</text>
<text class="f" font-size="9" fill="#222" transform="translate(561.57 1092.64) scale(0.97 1)">9</text>
<text class="f" font-size="9" fill="#222" transform="translate(593.90 1089.47) scale(0.97 1)">9</text>
<text class="f" font-size="9" fill="#222" transform="translate(626.23 1091.58) scale(0.97 1)">9</text>
<text class="f" font-size="9" fill="#222" transform="translate(658.56 1091.58) scale(0.97 1)">9</text>
<text class="f" font-size="9" fill="#222" transform="translate(688.71 1087.89) scale(0.97 1)">10</text>
<text class="f" font-size="9" fill="#222" transform="translate(717.72 1090.53) scale(0.97 1)">9</text>
<text class="f" font-size="9" fill="#222" transform="translate(502.24 1079.46) scale(0.97 1)">14</text>
<text class="f" font-size="9" fill="#222" transform="translate(527.06 1078.41) scale(0.97 1)">14</text>
<text class="f" font-size="9" fill="#222" transform="translate(559.39 1081.04) scale(0.97 1)">13</text>
<text class="f" font-size="9" fill="#222" transform="translate(591.72 1078.41) scale(0.97 1)">12</text>
<text class="f" font-size="9" fill="#222" transform="translate(624.05 1080.52) scale(0.97 1)">12</text>
<text class="f" font-size="9" fill="#222" transform="translate(656.38 1080.52) scale(0.97 1)">12</text>
<text class="f" font-size="9" fill="#222" transform="translate(688.71 1075.77) scale(0.97 1)">13</text>
<text class="f" font-size="9" fill="#222" transform="translate(715.53 1079.46) scale(0.97 1)">12</text>
<text class="f" font-size="9" fill="#fff" transform="translate(502.24 1064.18) scale(0.97 1)">15</text>
<text class="f" font-size="9" fill="#fff" transform="translate(527.06 1063.12) scale(0.97 1)">15</text>
<text class="f" font-size="9" fill="#fff" transform="translate(559.39 1066.29) scale(0.97 1)">15</text>
<text class="f" font-size="9" fill="#fff" transform="translate(591.72 1064.18) scale(0.97 1)">15</text>
<text class="f" font-size="9" fill="#fff" transform="translate(624.05 1066.29) scale(0.97 1)">15</text>
<text class="f" font-size="9" fill="#fff" transform="translate(656.38 1066.29) scale(0.97 1)">15</text>
<text class="f" font-size="9" fill="#fff" transform="translate(688.71 1061.02) scale(0.97 1)">15</text>
<text class="f" font-size="9" fill="#fff" transform="translate(715.53 1065.23) scale(0.97 1)">15</text>
<text class="f" font-size="9" fill="#fff" transform="translate(502.24 1045.73) scale(0.97 1)">20</text>
<text class="f" font-size="9" fill="#fff" transform="translate(527.06 1044.68) scale(0.97 1)">20</text>
<text class="f" font-size="9" fill="#fff" transform="translate(559.39 1048.37) scale(0.97 1)">19</text>
<text class="f" font-size="9" fill="#fff" transform="translate(591.72 1046.26) scale(0.97 1)">19</text>
<text class="f" font-size="9" fill="#fff" transform="translate(624.05 1048.37) scale(0.97 1)">19</text>
<text class="f" font-size="9" fill="#fff" transform="translate(656.38 1048.37) scale(0.97 1)">19</text>
<text class="f" font-size="9" fill="#fff" transform="translate(688.71 1042.57) scale(0.97 1)">20</text>
<text class="f" font-size="9" fill="#fff" transform="translate(715.53 1047.32) scale(0.97 1)">19</text>
<text class="f" font-size="9" fill="#fff" transform="translate(690.89 1110.50) scale(0.97 1)">6</text>
<rect x="499.60" y="1019.00" width="14.00" height="8.50" fill="#071c35"/>
<text class="f" font-size="9" fill="#fff" transform="translate(502.24 1026.60) scale(0.97 1)">40</text>
<rect x="524.43" y="1019.00" width="14.00" height="8.50" fill="#071c35"/>
<text class="f" font-size="9" fill="#fff" transform="translate(527.06 1026.60) scale(0.97 1)">45</text>
<rect x="556.76" y="1019.00" width="14.00" height="8.50" fill="#071c35"/>
<text class="f" font-size="9" fill="#fff" transform="translate(559.39 1026.60) scale(0.97 1)">47</text>
<rect x="589.09" y="1019.00" width="14.00" height="8.50" fill="#071c35"/>
<text class="f" font-size="9" fill="#fff" transform="translate(591.72 1026.60) scale(0.97 1)">50</text>
<rect x="621.41" y="1019.00" width="14.00" height="8.50" fill="#071c35"/>
<text class="f" font-size="9" fill="#fff" transform="translate(624.05 1026.60) scale(0.97 1)">51</text>
<rect x="653.74" y="1019.00" width="14.00" height="8.50" fill="#071c35"/>
<text class="f" font-size="9" fill="#fff" transform="translate(656.38 1026.60) scale(0.97 1)">55</text>
<text class="f" font-size="9" fill="#fff" transform="translate(688.71 1014.60) scale(0.97 1)">62</text>
<text class="f" font-size="9" fill="#fff" transform="translate(715.53 1014.60) scale(0.97 1)">66</text>
<text class="f" font-size="9" fill="#222" transform="translate(503.51 1015.68) scale(1.05 1)">129</text>
<text class="f" font-size="9" fill="#222" transform="translate(524.34 1009.47) scale(1.05 1)">135</text>
<text class="f" font-size="9" fill="#222" transform="translate(556.67 1011.54) scale(1.05 1)">133</text>
<text class="f" font-size="9" fill="#222" transform="translate(589.00 1006.37) scale(1.05 1)">138</text>
<text class="f" font-size="9" fill="#222" transform="translate(621.33 1007.40) scale(1.05 1)">137</text>
<text class="f" font-size="9" fill="#222" transform="translate(653.66 1003.26) scale(1.05 1)">141</text>
<text class="f" font-size="9" fill="#222" transform="translate(685.98 989.81) scale(1.05 1)">154</text>
<text class="f" font-size="9" fill="#222" transform="translate(720.81 990.84) scale(1.05 1)">153</text>
<text class="f" font-size="9.6" fill="#222" transform="translate(483.00 1137.00) scale(1.1 1)">2023Q2</text>
<text class="f" font-size="9.6" fill="#222" transform="translate(710.20 1137.00) scale(1.1 1)">2025Q1</text>
<rect x="738.30" y="992.90" width="19.00" height="14.00" fill="#071c35"/>
<text class="c" x="762.40" y="1004.70" font-size="13.2" fill="#333">家常/农家菜</text>
<rect x="738.30" y="1012.85" width="19.00" height="14.00" fill="#2458c9"/>
<text class="c" x="762.40" y="1024.65" font-size="13.2" fill="#333">粤菜</text>
<rect x="738.30" y="1032.80" width="19.00" height="14.00" fill="#07a8e7"/>
<text class="c" x="762.40" y="1044.60" font-size="13.2" fill="#333">川菜</text>
<rect x="738.30" y="1052.75" width="19.00" height="14.00" fill="#05ecc2"/>
<text class="c" x="762.40" y="1064.55" font-size="13.2" fill="#333">本帮江浙菜</text>
<rect x="738.30" y="1072.70" width="19.00" height="14.00" fill="#d5fb6f"/>
<text class="c" x="762.40" y="1084.50" font-size="13.2" fill="#333">湘菜</text>
<rect x="738.30" y="1092.65" width="19.00" height="14.00" fill="#fcd002"/>
<text class="c" x="762.40" y="1104.45" font-size="13.2" fill="#333">东北菜</text>
<rect x="738.30" y="1112.60" width="19.00" height="14.00" fill="#bfbfbf"/>
<text class="c" x="762.40" y="1124.40" font-size="13.2" fill="#333">西北菜</text>
<text class="c" x="833.80" y="961.70" font-size="11.4" fill="#333">店均营收</text>
<text class="c" x="839.11" y="974.70" font-size="11.4" fill="#333">(天/元)</text>
<line x1="836.70" y1="985.80" x2="836.70" y2="1132.50" stroke="#555" stroke-width="1"/>
<rect x="836.70" y="991.10" width="16.17" height="10.40" fill="#0a1c36"/>
<text class="f" font-size="10.8" fill="#1a1a1a" transform="translate(857.37 999.90) scale(1.15 1)">2,170</text>
<rect x="836.70" y="1012.08" width="19.28" height="10.40" fill="#0a1c36"/>
<text class="f" font-size="10.8" fill="#1a1a1a" transform="translate(860.48 1020.88) scale(1.15 1)">2,588</text>
<rect x="836.70" y="1033.06" width="29.60" height="10.40" fill="#0a1c36"/>
<text class="f" font-size="10.8" fill="#1a1a1a" transform="translate(870.80 1041.86) scale(1.15 1)">3,973</text>
<rect x="836.70" y="1054.04" width="26.25" height="10.40" fill="#0a1c36"/>
<text class="f" font-size="10.8" fill="#1a1a1a" transform="translate(867.45 1062.84) scale(1.15 1)">3,523</text>
<rect x="836.70" y="1075.02" width="37.04" height="10.40" fill="#0a1c36"/>
<text class="f" font-size="10.8" fill="#1a1a1a" transform="translate(878.24 1083.82) scale(1.15 1)">4,972</text>
<rect x="836.70" y="1096.00" width="21.81" height="10.40" fill="#0a1c36"/>
<text class="f" font-size="10.8" fill="#1a1a1a" transform="translate(863.01 1104.80) scale(1.15 1)">2,928</text>
<rect x="836.70" y="1116.98" width="23.47" height="10.40" fill="#0a1c36"/>
<text class="f" font-size="10.8" fill="#1a1a1a" transform="translate(864.67 1125.78) scale(1.15 1)">3,151</text>
<text class="c" x="903.20" y="961.70" font-size="11.4" fill="#333">店均笔数</text>
<text class="c" x="908.51" y="974.70" font-size="11.4" fill="#333">(天/笔)</text>
<line x1="916.40" y1="985.80" x2="916.40" y2="1132.50" stroke="#555" stroke-width="1"/>
<rect x="916.40" y="991.10" width="17.53" height="10.40" fill="#0a1c36"/>
<text class="f" font-size="10.8" fill="#1a1a1a" transform="translate(938.43 999.90) scale(1.15 1)">87</text>
<rect x="916.40" y="1012.08" width="21.76" height="10.40" fill="#0a1c36"/>
<text class="f" font-size="10.8" fill="#1a1a1a" transform="translate(942.66 1020.88) scale(1.15 1)">108</text>
<rect x="916.40" y="1033.06" width="19.75" height="10.40" fill="#0a1c36"/>
<text class="f" font-size="10.8" fill="#1a1a1a" transform="translate(940.65 1041.86) scale(1.15 1)">98</text>
<rect x="916.40" y="1054.04" width="20.55" height="10.40" fill="#0a1c36"/>
<text class="f" font-size="10.8" fill="#1a1a1a" transform="translate(941.45 1062.84) scale(1.15 1)">102</text>
<rect x="916.40" y="1075.02" width="23.17" height="10.40" fill="#0a1c36"/>
<text class="f" font-size="10.8" fill="#1a1a1a" transform="translate(944.07 1083.82) scale(1.15 1)">115</text>
<rect x="916.40" y="1096.00" width="17.93" height="10.40" fill="#0a1c36"/>
<text class="f" font-size="10.8" fill="#1a1a1a" transform="translate(938.83 1104.80) scale(1.15 1)">89</text>
<rect x="916.40" y="1116.98" width="21.76" height="10.40" fill="#0a1c36"/>
<text class="f" font-size="10.8" fill="#1a1a1a" transform="translate(942.66 1125.78) scale(1.15 1)">108</text>
<text class="c" x="972.50" y="961.70" font-size="11.4" fill="#333">每笔金额</text>
<text class="c" x="977.81" y="974.70" font-size="11.4" fill="#333">(天/元)</text>
<line x1="979.80" y1="985.80" x2="979.80" y2="1132.50" stroke="#555" stroke-width="1"/>
<rect x="979.80" y="991.10" width="15.23" height="10.40" fill="#0a1c36"/>
<text class="f" font-size="10.8" fill="#1a1a1a" transform="translate(999.53 999.90) scale(1.15 1)">47</text>
<rect x="979.80" y="1012.08" width="20.09" height="10.40" fill="#0a1c36"/>
<text class="f" font-size="10.8" fill="#1a1a1a" transform="translate(1004.39 1020.88) scale(1.15 1)">62</text>
<rect x="979.80" y="1033.06" width="16.20" height="10.40" fill="#0a1c36"/>
<text class="f" font-size="10.8" fill="#1a1a1a" transform="translate(1000.50 1041.86) scale(1.15 1)">50</text>
<rect x="979.80" y="1054.04" width="24.95" height="10.40" fill="#0a1c36"/>
<text class="f" font-size="10.8" fill="#1a1a1a" transform="translate(1009.25 1062.84) scale(1.15 1)">77</text>
<rect x="979.80" y="1075.02" width="17.17" height="10.40" fill="#0a1c36"/>
<text class="f" font-size="10.8" fill="#1a1a1a" transform="translate(1001.47 1083.82) scale(1.15 1)">53</text>
<rect x="979.80" y="1096.00" width="13.61" height="10.40" fill="#0a1c36"/>
<text class="f" font-size="10.8" fill="#1a1a1a" transform="translate(997.91 1104.80) scale(1.15 1)">42</text>
<rect x="979.80" y="1116.98" width="13.93" height="10.40" fill="#0a1c36"/>
<text class="f" font-size="10.8" fill="#1a1a1a" transform="translate(998.23 1125.78) scale(1.15 1)">43</text>
<text class="c" x="455.40" y="1163.90" font-size="11.27" font-weight="700" fill="#17202e">细分品类人均消费额分析 (季度)</text>
<line x1="455.40" y1="1169.10" x2="737.80" y2="1169.10" stroke="#56606c" stroke-width="1.3"/>
<text class="c" x="484.40" y="1187.00" font-size="12" fill="#333">单位：元</text>
<line x1="562.36" y1="1181.30" x2="562.36" y2="1383.90" stroke="#c9c9c9" stroke-width="0.8" stroke-dasharray="1 1.2"/>
<line x1="479.60" y1="1198.30" x2="479.60" y2="1356.90" stroke="#333" stroke-width="1.1"/>
<line x1="479.60" y1="1356.90" x2="672.70" y2="1356.90" stroke="#333" stroke-width="1.1"/>
<line x1="507.19" y1="1353.90" x2="507.19" y2="1356.90" stroke="#333" stroke-width="0.9"/>
<line x1="534.77" y1="1353.90" x2="534.77" y2="1356.90" stroke="#333" stroke-width="0.9"/>
<line x1="562.36" y1="1353.90" x2="562.36" y2="1356.90" stroke="#333" stroke-width="0.9"/>
<line x1="589.94" y1="1353.90" x2="589.94" y2="1356.90" stroke="#333" stroke-width="0.9"/>
<line x1="617.53" y1="1353.90" x2="617.53" y2="1356.90" stroke="#333" stroke-width="0.9"/>
<line x1="645.11" y1="1353.90" x2="645.11" y2="1356.90" stroke="#333" stroke-width="0.9"/>
<line x1="672.70" y1="1353.90" x2="672.70" y2="1356.90" stroke="#333" stroke-width="0.9"/>
<line x1="475.60" y1="1356.90" x2="479.60" y2="1356.90" stroke="#333" stroke-width="0.9"/>
<text class="s" font-size="12.2" fill="#1f2a36" text-anchor="middle" x="462.10" y="1361.20">40</text>
<line x1="475.60" y1="1334.24" x2="479.60" y2="1334.24" stroke="#333" stroke-width="0.9"/>
<text class="s" font-size="12.2" fill="#1f2a36" text-anchor="middle" x="462.10" y="1338.54">50</text>
<line x1="475.60" y1="1311.59" x2="479.60" y2="1311.59" stroke="#333" stroke-width="0.9"/>
<text class="s" font-size="12.2" fill="#1f2a36" text-anchor="middle" x="462.10" y="1315.89">60</text>
<line x1="475.60" y1="1288.93" x2="479.60" y2="1288.93" stroke="#333" stroke-width="0.9"/>
<text class="s" font-size="12.2" fill="#1f2a36" text-anchor="middle" x="462.10" y="1293.23">70</text>
<line x1="475.60" y1="1266.27" x2="479.60" y2="1266.27" stroke="#333" stroke-width="0.9"/>
<text class="s" font-size="12.2" fill="#1f2a36" text-anchor="middle" x="462.10" y="1270.57">80</text>
<line x1="475.60" y1="1243.61" x2="479.60" y2="1243.61" stroke="#333" stroke-width="0.9"/>
<text class="s" font-size="12.2" fill="#1f2a36" text-anchor="middle" x="462.10" y="1247.91">90</text>
<line x1="475.60" y1="1220.96" x2="479.60" y2="1220.96" stroke="#333" stroke-width="0.9"/>
<text class="s" font-size="12.2" fill="#1f2a36" text-anchor="middle" x="462.10" y="1225.26">100</text>
<line x1="475.60" y1="1198.30" x2="479.60" y2="1198.30" stroke="#333" stroke-width="0.9"/>
<text class="s" font-size="12.2" fill="#1f2a36" text-anchor="middle" x="462.10" y="1202.60">110</text>
<path d="M479.6 1206.7C479.6 1206.7 507.2 1202.8 507.2 1202.8C507.2 1202.8 534.8 1198.8 534.8 1198.8C534.8 1198.8 562.4 1233.4 562.4 1233.4C562.4 1233.4 589.9 1242.5 589.9 1242.5C589.9 1242.5 617.5 1244.7 617.5 1244.7C617.5 1244.7 645.1 1248.1 645.1 1248.1C645.1 1248.1 672.7 1263.3 672.7 1263.3" fill="none" stroke="#071c35" stroke-width="1.7" stroke-linejoin="round"/>
<path d="M479.6 1242.5C479.6 1242.5 507.2 1243.6 507.2 1243.6C507.2 1243.6 534.8 1242.5 534.8 1242.5C534.8 1242.5 562.4 1279.9 562.4 1279.9C562.4 1279.9 589.9 1286.7 589.9 1286.7C589.9 1286.7 617.5 1289.8 617.5 1289.8C617.5 1289.8 645.1 1292.3 645.1 1292.3C645.1 1292.3 672.7 1302.5 672.7 1302.5" fill="none" stroke="#07a8e7" stroke-width="2" stroke-linejoin="round" stroke-dasharray="20 5"/>
<path d="M479.6 1251.5C479.6 1251.5 507.2 1250.4 507.2 1250.4C507.2 1250.4 534.8 1248.6 534.8 1248.6C534.8 1248.6 562.4 1288.9 562.4 1288.9C562.4 1288.9 589.9 1291.2 589.9 1291.2C589.9 1291.2 617.5 1290.5 617.5 1290.5C617.5 1290.5 645.1 1294.6 645.1 1294.6C645.1 1294.6 672.7 1308.2 672.7 1308.2" fill="none" stroke="#2458c9" stroke-width="1.8" stroke-linejoin="round"/>
<path d="M479.6 1257.2C479.6 1257.2 507.2 1252.7 507.2 1252.7C507.2 1252.7 534.8 1252.7 534.8 1252.7C534.8 1252.7 562.4 1291.2 562.4 1291.2C562.4 1291.2 589.9 1295.7 589.9 1295.7C589.9 1295.7 617.5 1295.7 617.5 1295.7C617.5 1295.7 645.1 1300.3 645.1 1300.3C645.1 1300.3 672.7 1309.3 672.7 1309.3" fill="none" stroke="#05ecc2" stroke-width="2.2" stroke-linejoin="round"/>
<path d="M479.6 1288.9C479.6 1288.9 507.2 1290.1 507.2 1290.1C507.2 1290.1 534.8 1288.9 534.8 1288.9C534.8 1288.9 562.4 1313.9 562.4 1313.9C562.4 1313.9 589.9 1316.1 589.9 1316.1C589.9 1316.1 617.5 1315.0 617.5 1315.0C617.5 1315.0 645.1 1316.1 645.1 1316.1C645.1 1316.1 672.7 1322.9 672.7 1322.9" fill="none" stroke="#d5fb6f" stroke-width="1.8" stroke-linejoin="round"/>
<path d="M479.6 1293.5C479.6 1293.5 507.2 1294.6 507.2 1294.6C507.2 1294.6 534.8 1293.5 534.8 1293.5C534.8 1293.5 562.4 1315.0 562.4 1315.0C562.4 1315.0 589.9 1317.2 589.9 1317.2C589.9 1317.2 617.5 1317.2 617.5 1317.2C617.5 1317.2 645.1 1318.4 645.1 1318.4C645.1 1318.4 672.7 1325.2 672.7 1325.2" fill="none" stroke="#fcd002" stroke-width="2" stroke-linejoin="round"/>
<path d="M479.6 1295.7C479.6 1295.7 507.2 1294.6 507.2 1294.6C507.2 1294.6 534.8 1295.7 534.8 1295.7C534.8 1295.7 562.4 1317.2 562.4 1317.2C562.4 1317.2 589.9 1320.6 589.9 1320.6C589.9 1320.6 617.5 1319.5 617.5 1319.5C617.5 1319.5 645.1 1321.8 645.1 1321.8C645.1 1321.8 672.7 1326.3 672.7 1326.3" fill="none" stroke="#071c35" stroke-width="2.6" stroke-linejoin="round" stroke-dasharray="20 5"/>
<path d="M479.6 1300.3C479.6 1300.3 507.2 1300.3 507.2 1300.3C507.2 1300.3 534.8 1300.3 534.8 1300.3C534.8 1300.3 562.4 1318.4 562.4 1318.4C562.4 1318.4 589.9 1322.9 589.9 1322.9C589.9 1322.9 617.5 1321.8 617.5 1321.8C617.5 1321.8 645.1 1324.0 645.1 1324.0C645.1 1324.0 672.7 1328.6 672.7 1328.6" fill="none" stroke="#2458c9" stroke-width="2.2" stroke-linejoin="round" stroke-dasharray="20 5"/>
<path d="M479.6 1311.6C479.6 1311.6 507.2 1310.5 507.2 1310.5C507.2 1310.5 534.8 1309.3 534.8 1309.3C534.8 1309.3 562.4 1327.4 562.4 1327.4C562.4 1327.4 589.9 1330.8 589.9 1330.8C589.9 1330.8 617.5 1329.7 617.5 1329.7C617.5 1329.7 645.1 1330.8 645.1 1330.8C645.1 1330.8 672.7 1334.2 672.7 1334.2" fill="none" stroke="#07a8e7" stroke-width="2" stroke-linejoin="round" stroke-dasharray="20 5"/>
<path d="M479.6 1313.9C479.6 1313.9 507.2 1311.6 507.2 1311.6C507.2 1311.6 534.8 1310.9 534.8 1310.9C534.8 1310.9 562.4 1329.7 562.4 1329.7C562.4 1329.7 589.9 1333.1 589.9 1333.1C589.9 1333.1 617.5 1334.2 617.5 1334.2C617.5 1334.2 645.1 1335.4 645.1 1335.4C645.1 1335.4 672.7 1343.3 672.7 1343.3" fill="none" stroke="#05ecc2" stroke-width="2.6" stroke-linejoin="round"/>
<path d="M479.6 1317.2C479.6 1317.2 507.2 1316.1 507.2 1316.1C507.2 1316.1 534.8 1315.0 534.8 1315.0C534.8 1315.0 562.4 1330.8 562.4 1330.8C562.4 1330.8 589.9 1335.4 589.9 1335.4C589.9 1335.4 617.5 1335.4 617.5 1335.4C617.5 1335.4 645.1 1336.5 645.1 1336.5C645.1 1336.5 672.7 1344.4 672.7 1344.4" fill="none" stroke="#07a8e7" stroke-width="1.8" stroke-linejoin="round"/>
<rect x="484.85" y="1192.98" width="17.50" height="9.60" fill="#fff"/>
<text class="f" font-size="10.6" fill="#151515" x="485.65" y="1200.98">106</text>
<rect x="498.44" y="1189.13" width="17.50" height="9.60" fill="#fff"/>
<text class="f" font-size="10.6" fill="#151515" x="499.24" y="1197.13">108</text>
<rect x="526.02" y="1185.05" width="17.50" height="9.60" fill="#fff"/>
<text class="f" font-size="10.6" fill="#151515" x="526.82" y="1193.05">110</text>
<rect x="556.26" y="1219.72" width="12.20" height="9.60" fill="#fff"/>
<text class="f" font-size="10.6" fill="#151515" x="557.06" y="1227.72">94</text>
<rect x="583.84" y="1228.78" width="12.20" height="9.60" fill="#fff"/>
<text class="f" font-size="10.6" fill="#151515" x="584.64" y="1236.78">90</text>
<rect x="611.43" y="1231.05" width="12.20" height="9.60" fill="#fff"/>
<text class="f" font-size="10.6" fill="#151515" x="612.23" y="1239.05">89</text>
<rect x="639.01" y="1234.45" width="12.20" height="9.60" fill="#fff"/>
<text class="f" font-size="10.6" fill="#151515" x="639.81" y="1242.45">88</text>
<rect x="666.60" y="1249.63" width="12.20" height="9.60" fill="#fff"/>
<text class="f" font-size="10.6" fill="#151515" x="667.40" y="1257.63">81</text>
<rect x="483.50" y="1228.78" width="12.20" height="9.60" fill="#fff"/>
<text class="f" font-size="10.6" fill="#151515" x="484.30" y="1236.78">91</text>
<rect x="501.09" y="1229.91" width="12.20" height="9.60" fill="#fff"/>
<text class="f" font-size="10.6" fill="#151515" x="501.89" y="1237.91">90</text>
<rect x="528.67" y="1228.78" width="12.20" height="9.60" fill="#fff"/>
<text class="f" font-size="10.6" fill="#151515" x="529.47" y="1236.78">91</text>
<rect x="556.26" y="1266.17" width="12.20" height="9.60" fill="#fff"/>
<text class="f" font-size="10.6" fill="#151515" x="557.06" y="1274.17">74</text>
<rect x="583.84" y="1272.96" width="12.20" height="9.60" fill="#fff"/>
<text class="f" font-size="10.6" fill="#151515" x="584.64" y="1280.96">71</text>
<rect x="611.43" y="1276.13" width="12.20" height="9.60" fill="#fff"/>
<text class="f" font-size="10.6" fill="#151515" x="612.23" y="1284.13">70</text>
<rect x="639.01" y="1278.63" width="12.20" height="9.60" fill="#fff"/>
<text class="f" font-size="10.6" fill="#151515" x="639.81" y="1286.63">69</text>
<rect x="666.60" y="1288.82" width="12.20" height="9.60" fill="#fff"/>
<text class="f" font-size="10.6" fill="#151515" x="667.40" y="1296.82">64</text>
<rect x="483.50" y="1237.84" width="12.20" height="9.60" fill="#fff"/>
<text class="f" font-size="10.6" fill="#151515" x="484.30" y="1245.84">86</text>
<rect x="501.09" y="1236.71" width="12.20" height="9.60" fill="#fff"/>
<text class="f" font-size="10.6" fill="#151515" x="501.89" y="1244.71">87</text>
<rect x="528.67" y="1234.90" width="12.20" height="9.60" fill="#fff"/>
<text class="f" font-size="10.6" fill="#151515" x="529.47" y="1242.90">88</text>
<rect x="556.26" y="1275.23" width="12.20" height="9.60" fill="#fff"/>
<text class="f" font-size="10.6" fill="#151515" x="557.06" y="1283.23">70</text>
<rect x="583.84" y="1277.49" width="12.20" height="9.60" fill="#fff"/>
<text class="f" font-size="10.6" fill="#151515" x="584.64" y="1285.49">69</text>
<rect x="611.43" y="1276.81" width="12.20" height="9.60" fill="#fff"/>
<text class="f" font-size="10.6" fill="#151515" x="612.23" y="1284.81">69</text>
<rect x="639.01" y="1280.89" width="12.20" height="9.60" fill="#fff"/>
<text class="f" font-size="10.6" fill="#151515" x="639.81" y="1288.89">68</text>
<rect x="666.60" y="1294.49" width="12.20" height="9.60" fill="#fff"/>
<text class="f" font-size="10.6" fill="#151515" x="667.40" y="1302.49">62</text>
<rect x="483.50" y="1243.51" width="12.20" height="9.60" fill="#fff"/>
<text class="f" font-size="10.6" fill="#151515" x="484.30" y="1251.51">84</text>
<rect x="501.09" y="1238.98" width="12.20" height="9.60" fill="#fff"/>
<text class="f" font-size="10.6" fill="#151515" x="501.89" y="1246.98">86</text>
<rect x="528.67" y="1238.98" width="12.20" height="9.60" fill="#fff"/>
<text class="f" font-size="10.6" fill="#151515" x="529.47" y="1246.98">86</text>
<rect x="556.26" y="1277.49" width="12.20" height="9.60" fill="#fff"/>
<text class="f" font-size="10.6" fill="#151515" x="557.06" y="1285.49">69</text>
<rect x="583.84" y="1282.03" width="12.20" height="9.60" fill="#fff"/>
<text class="f" font-size="10.6" fill="#151515" x="584.64" y="1290.03">67</text>
<rect x="611.43" y="1282.03" width="12.20" height="9.60" fill="#fff"/>
<text class="f" font-size="10.6" fill="#151515" x="612.23" y="1290.03">67</text>
<rect x="639.01" y="1286.56" width="12.20" height="9.60" fill="#fff"/>
<text class="f" font-size="10.6" fill="#151515" x="639.81" y="1294.56">65</text>
<rect x="666.60" y="1295.62" width="12.20" height="9.60" fill="#fff"/>
<text class="f" font-size="10.6" fill="#151515" x="667.40" y="1303.62">61</text>
<rect x="483.50" y="1275.23" width="12.20" height="9.60" fill="#fff"/>
<text class="f" font-size="10.6" fill="#151515" x="484.30" y="1283.23">70</text>
<rect x="501.09" y="1276.36" width="12.20" height="9.60" fill="#fff"/>
<text class="f" font-size="10.6" fill="#151515" x="501.89" y="1284.36">70</text>
<rect x="528.67" y="1275.23" width="12.20" height="9.60" fill="#fff"/>
<text class="f" font-size="10.6" fill="#151515" x="529.47" y="1283.23">70</text>
<rect x="556.26" y="1300.15" width="12.20" height="9.60" fill="#fff"/>
<text class="f" font-size="10.6" fill="#151515" x="557.06" y="1308.15">59</text>
<rect x="583.84" y="1302.42" width="12.20" height="9.60" fill="#fff"/>
<text class="f" font-size="10.6" fill="#151515" x="584.64" y="1310.42">58</text>
<rect x="611.43" y="1301.28" width="12.20" height="9.60" fill="#fff"/>
<text class="f" font-size="10.6" fill="#151515" x="612.23" y="1309.28">58</text>
<rect x="639.01" y="1302.42" width="12.20" height="9.60" fill="#fff"/>
<text class="f" font-size="10.6" fill="#151515" x="639.81" y="1310.42">58</text>
<rect x="666.60" y="1309.21" width="12.20" height="9.60" fill="#fff"/>
<text class="f" font-size="10.6" fill="#151515" x="667.40" y="1317.21">55</text>
<rect x="483.50" y="1279.76" width="12.20" height="9.60" fill="#fff"/>
<text class="f" font-size="10.6" fill="#151515" x="484.30" y="1287.76">68</text>
<rect x="501.09" y="1280.89" width="12.20" height="9.60" fill="#fff"/>
<text class="f" font-size="10.6" fill="#151515" x="501.89" y="1288.89">68</text>
<rect x="528.67" y="1279.76" width="12.20" height="9.60" fill="#fff"/>
<text class="f" font-size="10.6" fill="#151515" x="529.47" y="1287.76">68</text>
<rect x="556.26" y="1301.28" width="12.20" height="9.60" fill="#fff"/>
<text class="f" font-size="10.6" fill="#151515" x="557.06" y="1309.28">58</text>
<rect x="583.84" y="1303.55" width="12.20" height="9.60" fill="#fff"/>
<text class="f" font-size="10.6" fill="#151515" x="584.64" y="1311.55">57</text>
<rect x="611.43" y="1303.55" width="12.20" height="9.60" fill="#fff"/>
<text class="f" font-size="10.6" fill="#151515" x="612.23" y="1311.55">57</text>
<rect x="639.01" y="1304.68" width="12.20" height="9.60" fill="#fff"/>
<text class="f" font-size="10.6" fill="#151515" x="639.81" y="1312.68">57</text>
<rect x="666.60" y="1311.48" width="12.20" height="9.60" fill="#fff"/>
<text class="f" font-size="10.6" fill="#151515" x="667.40" y="1319.48">54</text>
<rect x="483.50" y="1282.03" width="12.20" height="9.60" fill="#fff"/>
<text class="f" font-size="10.6" fill="#151515" x="484.30" y="1290.03">67</text>
<rect x="501.09" y="1280.89" width="12.20" height="9.60" fill="#fff"/>
<text class="f" font-size="10.6" fill="#151515" x="501.89" y="1288.89">67</text>
<rect x="528.67" y="1282.03" width="12.20" height="9.60" fill="#fff"/>
<text class="f" font-size="10.6" fill="#151515" x="529.47" y="1290.03">67</text>
<rect x="556.26" y="1303.55" width="12.20" height="9.60" fill="#fff"/>
<text class="f" font-size="10.6" fill="#151515" x="557.06" y="1311.55">57</text>
<rect x="583.84" y="1306.95" width="12.20" height="9.60" fill="#fff"/>
<text class="f" font-size="10.6" fill="#151515" x="584.64" y="1314.95">56</text>
<rect x="611.43" y="1305.82" width="12.20" height="9.60" fill="#fff"/>
<text class="f" font-size="10.6" fill="#151515" x="612.23" y="1313.82">56</text>
<rect x="639.01" y="1308.08" width="12.20" height="9.60" fill="#fff"/>
<text class="f" font-size="10.6" fill="#151515" x="639.81" y="1316.08">55</text>
<rect x="666.60" y="1312.61" width="12.20" height="9.60" fill="#fff"/>
<text class="f" font-size="10.6" fill="#151515" x="667.40" y="1320.61">53</text>
<rect x="483.50" y="1286.56" width="12.20" height="9.60" fill="#fff"/>
<text class="f" font-size="10.6" fill="#151515" x="484.30" y="1294.56">65</text>
<rect x="501.09" y="1286.56" width="12.20" height="9.60" fill="#fff"/>
<text class="f" font-size="10.6" fill="#151515" x="501.89" y="1294.56">65</text>
<rect x="528.67" y="1286.56" width="12.20" height="9.60" fill="#fff"/>
<text class="f" font-size="10.6" fill="#151515" x="529.47" y="1294.56">65</text>
<rect x="556.26" y="1304.68" width="12.20" height="9.60" fill="#fff"/>
<text class="f" font-size="10.6" fill="#151515" x="557.06" y="1312.68">57</text>
<rect x="583.84" y="1309.21" width="12.20" height="9.60" fill="#fff"/>
<text class="f" font-size="10.6" fill="#151515" x="584.64" y="1317.21">55</text>
<rect x="611.43" y="1308.08" width="12.20" height="9.60" fill="#fff"/>
<text class="f" font-size="10.6" fill="#151515" x="612.23" y="1316.08">56</text>
<rect x="639.01" y="1310.35" width="12.20" height="9.60" fill="#fff"/>
<text class="f" font-size="10.6" fill="#151515" x="639.81" y="1318.35">54</text>
<rect x="666.60" y="1314.88" width="12.20" height="9.60" fill="#fff"/>
<text class="f" font-size="10.6" fill="#151515" x="667.40" y="1322.88">51</text>
<rect x="483.50" y="1297.89" width="12.20" height="9.60" fill="#fff"/>
<text class="f" font-size="10.6" fill="#151515" x="484.30" y="1305.89">60</text>
<rect x="501.09" y="1296.75" width="12.20" height="9.60" fill="#fff"/>
<text class="f" font-size="10.6" fill="#151515" x="501.89" y="1304.75">61</text>
<rect x="528.67" y="1295.62" width="12.20" height="9.60" fill="#fff"/>
<text class="f" font-size="10.6" fill="#151515" x="529.47" y="1303.62">61</text>
<rect x="556.26" y="1313.75" width="12.20" height="9.60" fill="#fff"/>
<text class="f" font-size="10.6" fill="#151515" x="557.06" y="1321.75">53</text>
<rect x="583.84" y="1317.14" width="12.20" height="9.60" fill="#fff"/>
<text class="f" font-size="10.6" fill="#151515" x="584.64" y="1325.14">52</text>
<rect x="611.43" y="1316.01" width="12.20" height="9.60" fill="#fff"/>
<text class="f" font-size="10.6" fill="#151515" x="612.23" y="1324.01">52</text>
<rect x="639.01" y="1317.14" width="12.20" height="9.60" fill="#fff"/>
<text class="f" font-size="10.6" fill="#151515" x="639.81" y="1325.14">52</text>
<rect x="666.60" y="1320.54" width="12.20" height="9.60" fill="#fff"/>
<text class="f" font-size="10.6" fill="#151515" x="667.40" y="1328.54">49</text>
<rect x="483.50" y="1300.15" width="12.20" height="9.60" fill="#fff"/>
<text class="f" font-size="10.6" fill="#151515" x="484.30" y="1308.15">59</text>
<rect x="501.09" y="1297.89" width="12.20" height="9.60" fill="#fff"/>
<text class="f" font-size="10.6" fill="#151515" x="501.89" y="1305.89">60</text>
<rect x="528.67" y="1297.21" width="12.20" height="9.60" fill="#fff"/>
<text class="f" font-size="10.6" fill="#151515" x="529.47" y="1305.21">60</text>
<rect x="556.26" y="1316.01" width="12.20" height="9.60" fill="#fff"/>
<text class="f" font-size="10.6" fill="#151515" x="557.06" y="1324.01">53</text>
<rect x="583.84" y="1319.41" width="12.20" height="9.60" fill="#fff"/>
<text class="f" font-size="10.6" fill="#151515" x="584.64" y="1327.41">50</text>
<rect x="611.43" y="1320.54" width="12.20" height="9.60" fill="#fff"/>
<text class="f" font-size="10.6" fill="#151515" x="612.23" y="1328.54">50</text>
<rect x="639.01" y="1321.68" width="12.20" height="9.60" fill="#fff"/>
<text class="f" font-size="10.6" fill="#151515" x="639.81" y="1329.68">49</text>
<rect x="666.60" y="1329.61" width="12.20" height="9.60" fill="#fff"/>
<text class="f" font-size="10.6" fill="#151515" x="667.40" y="1337.61">46</text>
<text class="f" font-size="11.3" fill="#222" transform="translate(459.50 1372.20) scale(1.12 1)">2023Q2</text>
<text class="f" font-size="11.3" fill="#222" transform="translate(654.20 1372.20) scale(1.12 1)">2025Q1</text>
<text class="c" x="690.10" y="1191.30" font-size="11.25" fill="#333">本帮江浙菜</text>
<line x1="678.50" y1="1187.10" x2="687.50" y2="1187.10" stroke="#333" stroke-width="0.9"/>
<text class="c" x="690.10" y="1209.27" font-size="11.25" fill="#333">京鲁菜</text>
<line x1="678.50" y1="1205.07" x2="687.50" y2="1205.07" stroke="#333" stroke-width="0.9"/>
<text class="c" x="690.10" y="1227.24" font-size="11.25" fill="#333">粤菜</text>
<line x1="678.50" y1="1223.04" x2="687.50" y2="1223.04" stroke="#333" stroke-width="0.9"/>
<text class="c" x="690.10" y="1245.21" font-size="11.25" fill="#333">家常/农家菜</text>
<line x1="678.50" y1="1241.01" x2="687.50" y2="1241.01" stroke="#333" stroke-width="0.9"/>
<text class="c" x="690.10" y="1263.18" font-size="11.25" fill="#333">其他地方菜</text>
<line x1="678.50" y1="1258.98" x2="687.50" y2="1258.98" stroke="#333" stroke-width="0.9"/>
<text class="c" x="690.10" y="1281.15" font-size="11.25" fill="#333">湘菜</text>
<line x1="678.50" y1="1276.95" x2="687.50" y2="1276.95" stroke="#333" stroke-width="0.9"/>
<text class="c" x="690.10" y="1299.12" font-size="11.25" fill="#333">云贵菜</text>
<line x1="678.50" y1="1294.92" x2="687.50" y2="1294.92" stroke="#333" stroke-width="0.9"/>
<text class="c" x="690.10" y="1317.09" font-size="11.25" fill="#333">川菜</text>
<line x1="678.50" y1="1312.89" x2="687.50" y2="1312.89" stroke="#333" stroke-width="0.9"/>
<text class="c" x="690.10" y="1335.06" font-size="11.25" fill="#333">东北菜</text>
<text class="c" x="690.10" y="1353.03" font-size="11.25" fill="#333">西北菜</text>
<line x1="678.50" y1="1187.10" x2="678.50" y2="1312.90" stroke="#333" stroke-width="0.9"/>
<text class="c" transform="translate(569.50 1391.70) skewX(-12)" font-size="6.6" fill="#444">*大众点评调整数据口径,</text>
<text class="c" transform="translate(569.50 1399.70) skewX(-12)" font-size="6.6" fill="#444">增加外卖及团购人均数据</text>
<text class="c" x="755.60" y="1163.90" font-size="11.27" font-weight="700" fill="#17202e">细分品类连锁化率分析 (季度)</text>
<line x1="755.60" y1="1169.10" x2="1017.70" y2="1169.10" stroke="#56606c" stroke-width="1.3"/>
<text class="c" x="755.60" y="1187.00" font-size="12" fill="#333">单位：%</text>
<line x1="773.80" y1="1197.90" x2="773.80" y2="1356.60" stroke="#333" stroke-width="1.1"/>
<line x1="773.80" y1="1356.60" x2="975.60" y2="1356.60" stroke="#333" stroke-width="1.1"/>
<line x1="802.63" y1="1353.60" x2="802.63" y2="1356.60" stroke="#333" stroke-width="0.9"/>
<line x1="831.46" y1="1353.60" x2="831.46" y2="1356.60" stroke="#333" stroke-width="0.9"/>
<line x1="860.29" y1="1353.60" x2="860.29" y2="1356.60" stroke="#333" stroke-width="0.9"/>
<line x1="889.11" y1="1353.60" x2="889.11" y2="1356.60" stroke="#333" stroke-width="0.9"/>
<line x1="917.94" y1="1353.60" x2="917.94" y2="1356.60" stroke="#333" stroke-width="0.9"/>
<line x1="946.77" y1="1353.60" x2="946.77" y2="1356.60" stroke="#333" stroke-width="0.9"/>
<line x1="975.60" y1="1353.60" x2="975.60" y2="1356.60" stroke="#333" stroke-width="0.9"/>
<line x1="769.80" y1="1356.60" x2="773.80" y2="1356.60" stroke="#333" stroke-width="0.9"/>
<text class="s" font-size="11.5" fill="#1f2a36" text-anchor="end" x="762.20" y="1360.80">5%</text>
<line x1="769.80" y1="1333.93" x2="773.80" y2="1333.93" stroke="#333" stroke-width="0.9"/>
<text class="s" font-size="11.5" fill="#1f2a36" text-anchor="end" x="762.20" y="1338.13">10%</text>
<line x1="769.80" y1="1311.26" x2="773.80" y2="1311.26" stroke="#333" stroke-width="0.9"/>
<text class="s" font-size="11.5" fill="#1f2a36" text-anchor="end" x="762.20" y="1315.46">15%</text>
<line x1="769.80" y1="1288.59" x2="773.80" y2="1288.59" stroke="#333" stroke-width="0.9"/>
<text class="s" font-size="11.5" fill="#1f2a36" text-anchor="end" x="762.20" y="1292.79">20%</text>
<line x1="769.80" y1="1265.91" x2="773.80" y2="1265.91" stroke="#333" stroke-width="0.9"/>
<text class="s" font-size="11.5" fill="#1f2a36" text-anchor="end" x="762.20" y="1270.11">25%</text>
<line x1="769.80" y1="1243.24" x2="773.80" y2="1243.24" stroke="#333" stroke-width="0.9"/>
<text class="s" font-size="11.5" fill="#1f2a36" text-anchor="end" x="762.20" y="1247.44">30%</text>
<line x1="769.80" y1="1220.57" x2="773.80" y2="1220.57" stroke="#333" stroke-width="0.9"/>
<text class="s" font-size="11.5" fill="#1f2a36" text-anchor="end" x="762.20" y="1224.77">35%</text>
<line x1="769.80" y1="1197.90" x2="773.80" y2="1197.90" stroke="#333" stroke-width="0.9"/>
<text class="s" font-size="11.5" fill="#1f2a36" text-anchor="end" x="762.20" y="1202.10">40%</text>
<path d="M773.8 1220.6C776.7 1220.5 796.9 1219.8 802.6 1219.7C808.4 1219.5 825.7 1219.4 831.5 1219.2C837.2 1219.0 854.5 1218.1 860.3 1217.9C866.1 1217.6 883.3 1217.1 889.1 1216.9C894.9 1216.8 912.2 1216.0 917.9 1216.0C923.7 1216.0 941.0 1217.2 946.8 1216.9C952.5 1216.7 972.7 1213.7 975.6 1213.3" fill="none" stroke="#fcd002" stroke-width="2.2" stroke-linejoin="round"/>
<path d="M773.8 1252.3C776.7 1252.2 796.9 1251.4 802.6 1251.0C808.4 1250.5 825.7 1248.3 831.5 1247.8C837.2 1247.2 854.5 1245.8 860.3 1245.5C866.1 1245.2 883.3 1244.8 889.1 1244.6C894.9 1244.4 912.2 1243.6 917.9 1243.2C923.7 1242.9 941.0 1242.1 946.8 1241.0C952.5 1239.8 972.7 1232.8 975.6 1231.9" fill="none" stroke="#07a8e7" stroke-width="2.4" stroke-linejoin="round" stroke-dasharray="20 5"/>
<path d="M773.8 1251.0C776.7 1251.0 796.9 1251.2 802.6 1251.4C808.4 1251.6 825.7 1253.4 831.5 1253.2C837.2 1253.0 854.5 1249.5 860.3 1249.1C866.1 1248.8 883.3 1249.5 889.1 1250.0C894.9 1250.6 912.2 1254.1 917.9 1254.6C923.7 1255.0 941.0 1254.7 946.8 1254.6C952.5 1254.5 972.7 1253.8 975.6 1253.7" fill="none" stroke="#2458c9" stroke-width="2.2" stroke-linejoin="round" stroke-dasharray="20 5"/>
<path d="M773.8 1256.8C776.7 1256.6 796.9 1255.5 802.6 1254.6C808.4 1253.7 825.7 1248.7 831.5 1247.8C837.2 1246.9 854.5 1245.6 860.3 1245.5C866.1 1245.4 883.3 1246.0 889.1 1246.4C894.9 1246.9 912.2 1249.5 917.9 1250.0C923.7 1250.6 941.0 1252.7 946.8 1252.3C952.5 1251.9 972.7 1247.0 975.6 1246.4" fill="none" stroke="#05ecc2" stroke-width="2.4" stroke-linejoin="round"/>
<path d="M773.8 1261.4C776.7 1260.9 796.9 1257.5 802.6 1256.8C808.4 1256.2 825.7 1253.9 831.5 1254.6C837.2 1255.3 854.5 1262.6 860.3 1263.6C866.1 1264.6 883.3 1264.3 889.1 1264.6C894.9 1264.8 912.2 1265.5 917.9 1265.9C923.7 1266.4 941.0 1269.5 946.8 1269.1C952.5 1268.6 972.7 1262.2 975.6 1261.4" fill="none" stroke="#2458c9" stroke-width="2" stroke-linejoin="round" stroke-dasharray="20 5"/>
<path d="M773.8 1275.0C776.7 1274.7 796.9 1272.5 802.6 1271.8C808.4 1271.1 825.7 1268.9 831.5 1268.2C837.2 1267.5 854.5 1264.9 860.3 1264.6C866.1 1264.2 883.3 1264.6 889.1 1264.6C894.9 1264.5 912.2 1263.8 917.9 1263.6C923.7 1263.5 941.0 1263.0 946.8 1262.7C952.5 1262.5 972.7 1261.5 975.6 1261.4" fill="none" stroke="#071c35" stroke-width="1.6" stroke-linejoin="round" stroke-dasharray="60 5 20 5"/>
<path d="M773.8 1279.5C776.7 1279.1 796.9 1275.7 802.6 1275.0C808.4 1274.3 825.7 1273.0 831.5 1272.7C837.2 1272.4 854.5 1271.9 860.3 1271.8C866.1 1271.7 883.3 1271.9 889.1 1271.8C894.9 1271.7 912.2 1270.4 917.9 1270.4C923.7 1270.4 941.0 1272.1 946.8 1271.8C952.5 1271.5 972.7 1267.7 975.6 1267.3" fill="none" stroke="#07a8e7" stroke-width="2" stroke-linejoin="round" stroke-dasharray="20 5"/>
<path d="M773.8 1293.1C776.7 1292.9 796.9 1291.3 802.6 1290.9C808.4 1290.4 825.7 1288.9 831.5 1288.6C837.2 1288.2 854.5 1287.5 860.3 1287.2C866.1 1287.0 883.3 1286.3 889.1 1285.9C894.9 1285.5 912.2 1283.3 917.9 1283.1C923.7 1283.0 941.0 1284.6 946.8 1284.1C952.5 1283.6 972.7 1278.7 975.6 1278.2" fill="none" stroke="#d5fb6f" stroke-width="1.8" stroke-linejoin="round" stroke-dasharray="20 5"/>
<path d="M773.8 1304.5C776.7 1304.2 796.9 1302.6 802.6 1302.2C808.4 1301.7 825.7 1300.5 831.5 1299.9C837.2 1299.3 854.5 1297.0 860.3 1296.3C866.1 1295.6 883.3 1293.3 889.1 1293.1C894.9 1293.0 912.2 1294.5 917.9 1294.9C923.7 1295.3 941.0 1297.7 946.8 1297.2C952.5 1296.7 972.7 1291.1 975.6 1290.4" fill="none" stroke="#071c35" stroke-width="2.8" stroke-linejoin="round"/>
<path d="M773.8 1332.6C776.7 1332.7 796.9 1333.3 802.6 1333.5C808.4 1333.6 825.7 1333.9 831.5 1333.9C837.2 1334.0 854.5 1334.0 860.3 1333.9C866.1 1333.8 883.3 1333.0 889.1 1333.0C894.9 1333.1 912.2 1334.3 917.9 1334.4C923.7 1334.5 941.0 1334.0 946.8 1333.9C952.5 1333.9 972.7 1333.9 975.6 1333.9" fill="none" stroke="#05ecc2" stroke-width="2" stroke-linejoin="round"/>
<rect x="777.40" y="1206.87" width="12.80" height="9.60" fill="#fff"/>
<text class="f" font-size="11.2" fill="#151515" x="778.20" y="1214.87">35</text>
<rect x="796.23" y="1205.96" width="12.80" height="9.60" fill="#fff"/>
<text class="f" font-size="11.2" fill="#151515" x="797.03" y="1213.96">35</text>
<rect x="825.06" y="1205.51" width="12.80" height="9.60" fill="#fff"/>
<text class="f" font-size="11.2" fill="#151515" x="825.86" y="1213.51">35</text>
<rect x="853.89" y="1204.15" width="12.80" height="9.60" fill="#fff"/>
<text class="f" font-size="11.2" fill="#151515" x="854.69" y="1212.15">36</text>
<rect x="882.71" y="1203.24" width="12.80" height="9.60" fill="#fff"/>
<text class="f" font-size="11.2" fill="#151515" x="883.51" y="1211.24">36</text>
<rect x="911.54" y="1202.34" width="12.80" height="9.60" fill="#fff"/>
<text class="f" font-size="11.2" fill="#151515" x="912.34" y="1210.34">36</text>
<rect x="940.37" y="1203.24" width="12.80" height="9.60" fill="#fff"/>
<text class="f" font-size="11.2" fill="#151515" x="941.17" y="1211.24">36</text>
<rect x="969.20" y="1199.62" width="12.80" height="9.60" fill="#fff"/>
<text class="f" font-size="11.2" fill="#151515" x="970.00" y="1207.62">37</text>
<rect x="777.40" y="1238.61" width="12.80" height="9.60" fill="#fff"/>
<text class="f" font-size="11.2" fill="#151515" x="778.20" y="1246.61">28</text>
<rect x="796.23" y="1237.25" width="12.80" height="9.60" fill="#fff"/>
<text class="f" font-size="11.2" fill="#151515" x="797.03" y="1245.25">28</text>
<rect x="825.06" y="1234.08" width="12.80" height="9.60" fill="#fff"/>
<text class="f" font-size="11.2" fill="#151515" x="825.86" y="1242.08">29</text>
<rect x="853.89" y="1231.81" width="12.80" height="9.60" fill="#fff"/>
<text class="f" font-size="11.2" fill="#151515" x="854.69" y="1239.81">30</text>
<rect x="882.71" y="1230.90" width="12.80" height="9.60" fill="#fff"/>
<text class="f" font-size="11.2" fill="#151515" x="883.51" y="1238.90">30</text>
<rect x="911.54" y="1229.54" width="12.80" height="9.60" fill="#fff"/>
<text class="f" font-size="11.2" fill="#151515" x="912.34" y="1237.54">30</text>
<rect x="940.37" y="1227.28" width="12.80" height="9.60" fill="#fff"/>
<text class="f" font-size="11.2" fill="#151515" x="941.17" y="1235.28">31</text>
<rect x="969.20" y="1218.21" width="12.80" height="9.60" fill="#fff"/>
<text class="f" font-size="11.2" fill="#151515" x="970.00" y="1226.21">33</text>
<rect x="777.40" y="1237.25" width="12.80" height="9.60" fill="#fff"/>
<text class="f" font-size="11.2" fill="#151515" x="778.20" y="1245.25">28</text>
<rect x="796.23" y="1237.70" width="12.80" height="9.60" fill="#fff"/>
<text class="f" font-size="11.2" fill="#151515" x="797.03" y="1245.70">28</text>
<rect x="825.06" y="1239.52" width="12.80" height="9.60" fill="#fff"/>
<text class="f" font-size="11.2" fill="#151515" x="825.86" y="1247.52">28</text>
<rect x="853.89" y="1235.44" width="12.80" height="9.60" fill="#fff"/>
<text class="f" font-size="11.2" fill="#151515" x="854.69" y="1243.44">29</text>
<rect x="882.71" y="1236.34" width="12.80" height="9.60" fill="#fff"/>
<text class="f" font-size="11.2" fill="#151515" x="883.51" y="1244.34">29</text>
<rect x="911.54" y="1240.88" width="12.80" height="9.60" fill="#fff"/>
<text class="f" font-size="11.2" fill="#151515" x="912.34" y="1248.88">28</text>
<rect x="940.37" y="1240.88" width="12.80" height="9.60" fill="#fff"/>
<text class="f" font-size="11.2" fill="#151515" x="941.17" y="1248.88">28</text>
<rect x="969.20" y="1239.97" width="12.80" height="9.60" fill="#fff"/>
<text class="f" font-size="11.2" fill="#151515" x="970.00" y="1247.97">28</text>
<rect x="777.40" y="1243.15" width="12.80" height="9.60" fill="#fff"/>
<text class="f" font-size="11.2" fill="#151515" x="778.20" y="1251.15">26</text>
<rect x="796.23" y="1240.88" width="12.80" height="9.60" fill="#fff"/>
<text class="f" font-size="11.2" fill="#151515" x="797.03" y="1248.88">27</text>
<rect x="825.06" y="1234.08" width="12.80" height="9.60" fill="#fff"/>
<text class="f" font-size="11.2" fill="#151515" x="825.86" y="1242.08">28</text>
<rect x="853.89" y="1231.81" width="12.80" height="9.60" fill="#fff"/>
<text class="f" font-size="11.2" fill="#151515" x="854.69" y="1239.81">29</text>
<rect x="882.71" y="1232.72" width="12.80" height="9.60" fill="#fff"/>
<text class="f" font-size="11.2" fill="#151515" x="883.51" y="1240.72">29</text>
<rect x="911.54" y="1236.34" width="12.80" height="9.60" fill="#fff"/>
<text class="f" font-size="11.2" fill="#151515" x="912.34" y="1244.34">29</text>
<rect x="940.37" y="1238.61" width="12.80" height="9.60" fill="#fff"/>
<text class="f" font-size="11.2" fill="#151515" x="941.17" y="1246.61">28</text>
<rect x="969.20" y="1232.72" width="12.80" height="9.60" fill="#fff"/>
<text class="f" font-size="11.2" fill="#151515" x="970.00" y="1240.72">30</text>
<rect x="777.40" y="1247.68" width="12.80" height="9.60" fill="#fff"/>
<text class="f" font-size="11.2" fill="#151515" x="778.20" y="1255.68">26</text>
<rect x="796.23" y="1243.15" width="12.80" height="9.60" fill="#fff"/>
<text class="f" font-size="11.2" fill="#151515" x="797.03" y="1251.15">27</text>
<rect x="853.89" y="1249.95" width="12.80" height="9.60" fill="#fff"/>
<text class="f" font-size="11.2" fill="#151515" x="854.69" y="1257.95">25</text>
<rect x="882.71" y="1250.85" width="12.80" height="9.60" fill="#fff"/>
<text class="f" font-size="11.2" fill="#151515" x="883.51" y="1258.85">25</text>
<rect x="911.54" y="1252.21" width="12.80" height="9.60" fill="#fff"/>
<text class="f" font-size="11.2" fill="#151515" x="912.34" y="1260.21">25</text>
<rect x="940.37" y="1255.39" width="12.80" height="9.60" fill="#fff"/>
<text class="f" font-size="11.2" fill="#151515" x="941.17" y="1263.39">26</text>
<rect x="969.20" y="1247.68" width="12.80" height="9.60" fill="#fff"/>
<text class="f" font-size="11.2" fill="#151515" x="970.00" y="1255.68">25</text>
<rect x="777.40" y="1261.28" width="12.80" height="9.60" fill="#fff"/>
<text class="f" font-size="11.2" fill="#151515" x="778.20" y="1269.28">23</text>
<rect x="796.23" y="1258.11" width="12.80" height="9.60" fill="#fff"/>
<text class="f" font-size="11.2" fill="#151515" x="797.03" y="1266.11">24</text>
<rect x="825.06" y="1254.48" width="12.80" height="9.60" fill="#fff"/>
<text class="f" font-size="11.2" fill="#151515" x="825.86" y="1262.48">24</text>
<rect x="777.40" y="1265.82" width="12.80" height="9.60" fill="#fff"/>
<text class="f" font-size="11.2" fill="#151515" x="778.20" y="1273.82">22</text>
<rect x="796.23" y="1261.28" width="12.80" height="9.60" fill="#fff"/>
<text class="f" font-size="11.2" fill="#151515" x="797.03" y="1269.28">23</text>
<rect x="825.06" y="1259.02" width="12.80" height="9.60" fill="#fff"/>
<text class="f" font-size="11.2" fill="#151515" x="825.86" y="1267.02">24</text>
<rect x="853.89" y="1258.11" width="12.80" height="9.60" fill="#fff"/>
<text class="f" font-size="11.2" fill="#151515" x="854.69" y="1266.11">24</text>
<rect x="882.71" y="1258.11" width="12.80" height="9.60" fill="#fff"/>
<text class="f" font-size="11.2" fill="#151515" x="883.51" y="1266.11">24</text>
<rect x="911.54" y="1256.75" width="12.80" height="9.60" fill="#fff"/>
<text class="f" font-size="11.2" fill="#151515" x="912.34" y="1264.75">24</text>
<rect x="940.37" y="1258.11" width="12.80" height="9.60" fill="#fff"/>
<text class="f" font-size="11.2" fill="#151515" x="941.17" y="1266.11">24</text>
<rect x="969.20" y="1253.57" width="12.80" height="9.60" fill="#fff"/>
<text class="f" font-size="11.2" fill="#151515" x="970.00" y="1261.57">23</text>
<rect x="777.40" y="1278.42" width="12.80" height="9.60" fill="#fff"/>
<text class="f" font-size="11.2" fill="#151515" x="778.20" y="1286.42">19</text>
<rect x="796.23" y="1276.15" width="12.80" height="9.60" fill="#fff"/>
<text class="f" font-size="11.2" fill="#151515" x="797.03" y="1284.15">20</text>
<rect x="825.06" y="1273.89" width="12.80" height="9.60" fill="#fff"/>
<text class="f" font-size="11.2" fill="#151515" x="825.86" y="1281.89">20</text>
<rect x="853.89" y="1272.53" width="12.80" height="9.60" fill="#fff"/>
<text class="f" font-size="11.2" fill="#151515" x="854.69" y="1280.53">21</text>
<rect x="882.71" y="1271.17" width="12.80" height="9.60" fill="#fff"/>
<text class="f" font-size="11.2" fill="#151515" x="883.51" y="1279.17">21</text>
<rect x="911.54" y="1268.44" width="12.80" height="9.60" fill="#fff"/>
<text class="f" font-size="11.2" fill="#151515" x="912.34" y="1276.44">21</text>
<rect x="940.37" y="1269.35" width="12.80" height="9.60" fill="#fff"/>
<text class="f" font-size="11.2" fill="#151515" x="941.17" y="1277.35">21</text>
<rect x="969.20" y="1263.46" width="12.80" height="9.60" fill="#fff"/>
<text class="f" font-size="11.2" fill="#151515" x="970.00" y="1271.46">23</text>
<rect x="777.40" y="1289.76" width="12.80" height="9.60" fill="#fff"/>
<text class="f" font-size="11.2" fill="#151515" x="778.20" y="1297.76">17</text>
<rect x="796.23" y="1287.49" width="12.80" height="9.60" fill="#fff"/>
<text class="f" font-size="11.2" fill="#151515" x="797.03" y="1295.49">17</text>
<rect x="825.06" y="1285.22" width="12.80" height="9.60" fill="#fff"/>
<text class="f" font-size="11.2" fill="#151515" x="825.86" y="1293.22">18</text>
<rect x="853.89" y="1281.59" width="12.80" height="9.60" fill="#fff"/>
<text class="f" font-size="11.2" fill="#151515" x="854.69" y="1289.59">18</text>
<rect x="882.71" y="1278.42" width="12.80" height="9.60" fill="#fff"/>
<text class="f" font-size="11.2" fill="#151515" x="883.51" y="1286.42">19</text>
<rect x="911.54" y="1280.23" width="12.80" height="9.60" fill="#fff"/>
<text class="f" font-size="11.2" fill="#151515" x="912.34" y="1288.23">19</text>
<rect x="940.37" y="1282.50" width="12.80" height="9.60" fill="#fff"/>
<text class="f" font-size="11.2" fill="#151515" x="941.17" y="1290.50">18</text>
<rect x="969.20" y="1275.70" width="12.80" height="9.60" fill="#fff"/>
<text class="f" font-size="11.2" fill="#151515" x="970.00" y="1283.70">20</text>
<rect x="777.40" y="1317.87" width="12.80" height="9.60" fill="#fff"/>
<text class="f" font-size="11.2" fill="#151515" x="778.20" y="1325.87">10</text>
<rect x="796.23" y="1318.78" width="12.80" height="9.60" fill="#fff"/>
<text class="f" font-size="11.2" fill="#151515" x="797.03" y="1326.78">10</text>
<rect x="825.06" y="1319.23" width="12.80" height="9.60" fill="#fff"/>
<text class="f" font-size="11.2" fill="#151515" x="825.86" y="1327.23">10</text>
<rect x="853.89" y="1319.23" width="12.80" height="9.60" fill="#fff"/>
<text class="f" font-size="11.2" fill="#151515" x="854.69" y="1327.23">10</text>
<rect x="882.71" y="1318.32" width="12.80" height="9.60" fill="#fff"/>
<text class="f" font-size="11.2" fill="#151515" x="883.51" y="1326.32">10</text>
<rect x="911.54" y="1319.68" width="12.80" height="9.60" fill="#fff"/>
<text class="f" font-size="11.2" fill="#151515" x="912.34" y="1327.68">10</text>
<rect x="940.37" y="1319.23" width="12.80" height="9.60" fill="#fff"/>
<text class="f" font-size="11.2" fill="#151515" x="941.17" y="1327.23">10</text>
<rect x="969.20" y="1319.23" width="12.80" height="9.60" fill="#fff"/>
<text class="f" font-size="11.2" fill="#151515" x="970.00" y="1327.23">10</text>
<text class="s" font-size="12.4" fill="#26323f" x="752.40" y="1370.60">2023Q2</text>
<text class="s" font-size="12.4" fill="#26323f" x="953.80" y="1370.60">2025Q1</text>
<text class="c" x="992.00" y="1190.10" font-size="11.35" fill="#333">湘菜</text>
<text class="c" x="992.00" y="1208.21" font-size="11.35" fill="#333">东北菜</text>
<text class="c" x="992.00" y="1226.32" font-size="11.35" fill="#333">西北菜</text>
<text class="c" x="992.00" y="1244.43" font-size="11.35" fill="#333">川菜</text>
<text class="c" x="992.00" y="1262.54" font-size="11.35" fill="#333">京鲁菜</text>
<text class="c" x="992.00" y="1280.65" font-size="11.35" fill="#333">本帮江浙菜</text>
<text class="c" x="992.00" y="1298.76" font-size="11.35" fill="#333">粤菜</text>
<text class="c" x="992.00" y="1316.87" font-size="11.35" fill="#333">其他地方菜</text>
<text class="c" x="992.00" y="1334.98" font-size="11.35" fill="#333">云贵菜</text>
<text class="c" x="992.00" y="1353.09" font-size="11.35" fill="#333">家常/农家菜</text>
<path d="M977.8 1211.7L981.7 1186H989.3" fill="none" stroke="#444" stroke-width="0.8"/>
<path d="M979.3 1225.6L981.7 1204H989.3" fill="none" stroke="#444" stroke-width="0.8"/>
<path d="M980.3 1225.6L981.4 1222.3H989.3" fill="none" stroke="#444" stroke-width="0.8"/>
<path d="M983.8 1240.2H989.3" fill="none" stroke="#444" stroke-width="0.8"/>
<path d="M983.8 1276.4H989.3" fill="none" stroke="#444" stroke-width="0.8"/>
<path d="M978.2 1286.7L981.7 1294.4H989.3" fill="none" stroke="#444" stroke-width="0.8"/>
<path d="M979.6 1286.7L981.7 1312.6H989.3" fill="none" stroke="#444" stroke-width="0.8"/>
<path d="M980.3 1286.7L981.7 1330H989.3" fill="none" stroke="#444" stroke-width="0.8"/>
<path d="M977.8 1334.6L981.7 1348.2H989.3" fill="none" stroke="#444" stroke-width="0.8"/>
</svg>
</body></html>
